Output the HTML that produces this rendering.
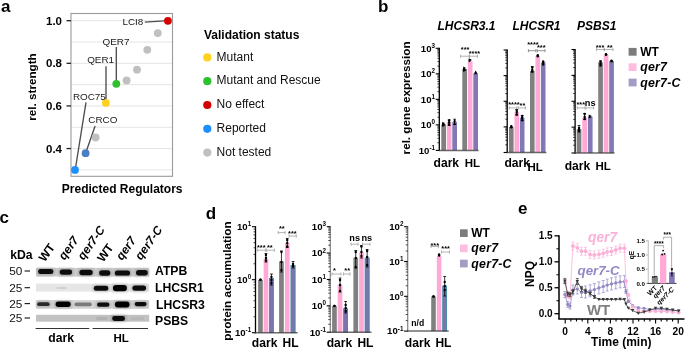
<!DOCTYPE html>
<html><head><meta charset="utf-8"><style>
html,body{margin:0;padding:0;background:#fff;}
svg{display:block;will-change:transform;}
svg text{font-family:"Liberation Sans",sans-serif;}
</style></head><body>
<svg width="685" height="349" viewBox="0 0 685 349">
<rect width="685" height="349" fill="#fff"/>
<text x="0.90" y="11.90" font-size="17" font-weight="bold" font-style="normal" text-anchor="start" fill="#000" >a</text>
<text x="378.10" y="12.00" font-size="17" font-weight="bold" font-style="normal" text-anchor="start" fill="#000" >b</text>
<text x="-0.50" y="223.00" font-size="17" font-weight="bold" font-style="normal" text-anchor="start" fill="#000" >c</text>
<text x="205.70" y="219.00" font-size="17" font-weight="bold" font-style="normal" text-anchor="start" fill="#000" >d</text>
<text x="518.00" y="214.30" font-size="17" font-weight="bold" font-style="normal" text-anchor="start" fill="#000" >e</text>
<line x1="71.00" y1="169.87" x2="172.50" y2="169.87" stroke="#e4e4e4" stroke-width="1" />
<line x1="71.00" y1="148.56" x2="172.50" y2="148.56" stroke="#e4e4e4" stroke-width="1" />
<line x1="71.00" y1="127.25" x2="172.50" y2="127.25" stroke="#e4e4e4" stroke-width="1" />
<line x1="71.00" y1="105.94" x2="172.50" y2="105.94" stroke="#e4e4e4" stroke-width="1" />
<line x1="71.00" y1="84.63" x2="172.50" y2="84.63" stroke="#e4e4e4" stroke-width="1" />
<line x1="71.00" y1="63.32" x2="172.50" y2="63.32" stroke="#e4e4e4" stroke-width="1" />
<line x1="71.00" y1="42.01" x2="172.50" y2="42.01" stroke="#e4e4e4" stroke-width="1" />
<line x1="71.00" y1="20.70" x2="172.50" y2="20.70" stroke="#e4e4e4" stroke-width="1" />
<rect x="71" y="13.5" width="101.5" height="162.8" fill="none" stroke="#9a9a9a" stroke-width="1.1"/>
<line x1="66.50" y1="20.70" x2="71.00" y2="20.70" stroke="#222" stroke-width="1.3" />
<text x="62.00" y="24.80" font-size="11.5" font-weight="bold" font-style="normal" text-anchor="end" fill="#000" >1.0</text>
<line x1="66.50" y1="63.32" x2="71.00" y2="63.32" stroke="#222" stroke-width="1.3" />
<text x="62.00" y="67.42" font-size="11.5" font-weight="bold" font-style="normal" text-anchor="end" fill="#000" >0.8</text>
<line x1="66.50" y1="105.94" x2="71.00" y2="105.94" stroke="#222" stroke-width="1.3" />
<text x="62.00" y="110.04" font-size="11.5" font-weight="bold" font-style="normal" text-anchor="end" fill="#000" >0.6</text>
<line x1="66.50" y1="148.56" x2="71.00" y2="148.56" stroke="#222" stroke-width="1.3" />
<text x="62.00" y="152.66" font-size="11.5" font-weight="bold" font-style="normal" text-anchor="end" fill="#000" >0.4</text>
<text x="36.30" y="87.00" font-size="11.7" font-weight="bold" font-style="normal" text-anchor="middle" fill="#000" transform="rotate(-90 36.3 87)">rel. strength</text>
<text x="122.20" y="192.50" font-size="12" font-weight="bold" font-style="normal" text-anchor="middle" fill="#000" >Predicted Regulators</text>
<line x1="144.80" y1="22.20" x2="164.20" y2="20.80" stroke="#4d4d4d" stroke-width="1.35" />
<line x1="116.30" y1="47.00" x2="116.30" y2="82.00" stroke="#4d4d4d" stroke-width="1.35" />
<line x1="106.00" y1="66.30" x2="106.00" y2="101.00" stroke="#4d4d4d" stroke-width="1.35" />
<line x1="86.00" y1="102.30" x2="75.50" y2="168.00" stroke="#4d4d4d" stroke-width="1.35" />
<line x1="95.10" y1="126.00" x2="86.20" y2="151.50" stroke="#4d4d4d" stroke-width="1.35" />
<circle cx="75.00" cy="169.90" r="3.9" fill="#1e8fff" />
<circle cx="85.60" cy="153.20" r="3.9" fill="#4a7fc6" />
<circle cx="95.60" cy="137.50" r="3.9" fill="#c0c0c0" />
<circle cx="105.90" cy="102.90" r="3.9" fill="#ffd21e" />
<circle cx="116.30" cy="83.80" r="3.9" fill="#2fc02f" />
<circle cx="126.60" cy="80.40" r="3.9" fill="#c0c0c0" />
<circle cx="137.00" cy="69.70" r="3.9" fill="#c0c0c0" />
<circle cx="147.30" cy="49.80" r="3.9" fill="#c0c0c0" />
<circle cx="157.80" cy="33.10" r="3.9" fill="#c0c0c0" />
<circle cx="167.90" cy="20.80" r="3.9" fill="#d40000" />
<text x="122.40" y="25.00" font-size="9.9" font-weight="normal" font-style="normal" text-anchor="start" fill="#1a1a1a" >LCI8</text>
<text x="102.60" y="44.60" font-size="9.9" font-weight="normal" font-style="normal" text-anchor="start" fill="#1a1a1a" >QER7</text>
<text x="87.20" y="63.20" font-size="9.9" font-weight="normal" font-style="normal" text-anchor="start" fill="#1a1a1a" >QER1</text>
<text x="72.90" y="100.00" font-size="9.9" font-weight="normal" font-style="normal" text-anchor="start" fill="#1a1a1a" >ROC75</text>
<text x="88.30" y="122.80" font-size="9.9" font-weight="normal" font-style="normal" text-anchor="start" fill="#1a1a1a" >CRCO</text>
<text x="204.00" y="38.90" font-size="12" font-weight="bold" font-style="normal" text-anchor="start" fill="#000" >Validation status</text>
<circle cx="207.30" cy="57.40" r="4.1" fill="#ffd21e" />
<text x="216.60" y="60.60" font-size="12" font-weight="normal" font-style="normal" text-anchor="start" fill="#111" >Mutant</text>
<circle cx="207.30" cy="81.20" r="4.1" fill="#2fc02f" />
<text x="216.60" y="84.40" font-size="12" font-weight="normal" font-style="normal" text-anchor="start" fill="#111" >Mutant and Rescue</text>
<circle cx="207.30" cy="105.00" r="4.1" fill="#d40000" />
<text x="216.60" y="108.20" font-size="12" font-weight="normal" font-style="normal" text-anchor="start" fill="#111" >No effect</text>
<circle cx="207.30" cy="128.80" r="4.1" fill="#1e8fff" />
<text x="216.60" y="132.00" font-size="12" font-weight="normal" font-style="normal" text-anchor="start" fill="#111" >Reported</text>
<circle cx="207.30" cy="152.60" r="4.1" fill="#c0c0c0" />
<text x="216.60" y="155.80" font-size="12" font-weight="normal" font-style="normal" text-anchor="start" fill="#111" >Not tested</text>
<text x="466.50" y="29.70" font-size="12" font-weight="bold" font-style="italic" text-anchor="middle" fill="#000" >LHCSR3.1</text>
<text x="536.50" y="29.70" font-size="12" font-weight="bold" font-style="italic" text-anchor="middle" fill="#000" >LHCSR1</text>
<text x="596.80" y="29.70" font-size="12" font-weight="bold" font-style="italic" text-anchor="middle" fill="#000" >PSBS1</text>
<text x="409.60" y="97.90" font-size="11.7" font-weight="bold" font-style="normal" text-anchor="middle" fill="#000" transform="rotate(-90 409.6 97.9)">rel. gene expression</text>
<line x1="439.30" y1="47.70" x2="439.30" y2="151.00" stroke="#000" stroke-width="1.3" />
<line x1="435.70" y1="48.30" x2="439.30" y2="48.30" stroke="#000" stroke-width="1.1" />
<text x="435.00" y="51.60" font-size="9.6" font-weight="bold" text-anchor="end">10<tspan font-size="6.3" dy="-3.8">3</tspan></text>
<line x1="437.30" y1="66.14" x2="439.30" y2="66.14" stroke="#000" stroke-width="0.7" />
<line x1="437.30" y1="61.65" x2="439.30" y2="61.65" stroke="#000" stroke-width="0.7" />
<line x1="437.30" y1="58.46" x2="439.30" y2="58.46" stroke="#000" stroke-width="0.7" />
<line x1="437.30" y1="55.98" x2="439.30" y2="55.98" stroke="#000" stroke-width="0.7" />
<line x1="437.30" y1="53.96" x2="439.30" y2="53.96" stroke="#000" stroke-width="0.7" />
<line x1="437.30" y1="52.25" x2="439.30" y2="52.25" stroke="#000" stroke-width="0.7" />
<line x1="437.30" y1="50.77" x2="439.30" y2="50.77" stroke="#000" stroke-width="0.7" />
<line x1="437.30" y1="49.47" x2="439.30" y2="49.47" stroke="#000" stroke-width="0.7" />
<line x1="435.70" y1="73.83" x2="439.30" y2="73.83" stroke="#000" stroke-width="1.1" />
<text x="435.00" y="77.12" font-size="9.6" font-weight="bold" text-anchor="end">10<tspan font-size="6.3" dy="-3.8">2</tspan></text>
<line x1="437.30" y1="91.67" x2="439.30" y2="91.67" stroke="#000" stroke-width="0.7" />
<line x1="437.30" y1="87.17" x2="439.30" y2="87.17" stroke="#000" stroke-width="0.7" />
<line x1="437.30" y1="83.98" x2="439.30" y2="83.98" stroke="#000" stroke-width="0.7" />
<line x1="437.30" y1="81.51" x2="439.30" y2="81.51" stroke="#000" stroke-width="0.7" />
<line x1="437.30" y1="79.49" x2="439.30" y2="79.49" stroke="#000" stroke-width="0.7" />
<line x1="437.30" y1="77.78" x2="439.30" y2="77.78" stroke="#000" stroke-width="0.7" />
<line x1="437.30" y1="76.30" x2="439.30" y2="76.30" stroke="#000" stroke-width="0.7" />
<line x1="437.30" y1="74.99" x2="439.30" y2="74.99" stroke="#000" stroke-width="0.7" />
<line x1="435.70" y1="99.35" x2="439.30" y2="99.35" stroke="#000" stroke-width="1.1" />
<text x="435.00" y="102.65" font-size="9.6" font-weight="bold" text-anchor="end">10<tspan font-size="6.3" dy="-3.8">1</tspan></text>
<line x1="437.30" y1="117.19" x2="439.30" y2="117.19" stroke="#000" stroke-width="0.7" />
<line x1="437.30" y1="112.70" x2="439.30" y2="112.70" stroke="#000" stroke-width="0.7" />
<line x1="437.30" y1="109.51" x2="439.30" y2="109.51" stroke="#000" stroke-width="0.7" />
<line x1="437.30" y1="107.03" x2="439.30" y2="107.03" stroke="#000" stroke-width="0.7" />
<line x1="437.30" y1="105.01" x2="439.30" y2="105.01" stroke="#000" stroke-width="0.7" />
<line x1="437.30" y1="103.30" x2="439.30" y2="103.30" stroke="#000" stroke-width="0.7" />
<line x1="437.30" y1="101.82" x2="439.30" y2="101.82" stroke="#000" stroke-width="0.7" />
<line x1="437.30" y1="100.52" x2="439.30" y2="100.52" stroke="#000" stroke-width="0.7" />
<line x1="435.70" y1="124.88" x2="439.30" y2="124.88" stroke="#000" stroke-width="1.1" />
<text x="435.00" y="128.18" font-size="9.6" font-weight="bold" text-anchor="end">10<tspan font-size="6.3" dy="-3.8">0</tspan></text>
<line x1="437.30" y1="142.72" x2="439.30" y2="142.72" stroke="#000" stroke-width="0.7" />
<line x1="437.30" y1="138.22" x2="439.30" y2="138.22" stroke="#000" stroke-width="0.7" />
<line x1="437.30" y1="135.03" x2="439.30" y2="135.03" stroke="#000" stroke-width="0.7" />
<line x1="437.30" y1="132.56" x2="439.30" y2="132.56" stroke="#000" stroke-width="0.7" />
<line x1="437.30" y1="130.54" x2="439.30" y2="130.54" stroke="#000" stroke-width="0.7" />
<line x1="437.30" y1="128.83" x2="439.30" y2="128.83" stroke="#000" stroke-width="0.7" />
<line x1="437.30" y1="127.35" x2="439.30" y2="127.35" stroke="#000" stroke-width="0.7" />
<line x1="437.30" y1="126.04" x2="439.30" y2="126.04" stroke="#000" stroke-width="0.7" />
<line x1="435.70" y1="150.40" x2="439.30" y2="150.40" stroke="#000" stroke-width="1.1" />
<text x="435.00" y="153.70" font-size="9.6" font-weight="bold" text-anchor="end">10<tspan font-size="6.3" dy="-3.8">-1</tspan></text>
<rect x="441.30" y="124.30" width="4.70" height="26.10" fill="#808080" />
<rect x="446.80" y="122.00" width="4.70" height="28.40" fill="#ffaad6" />
<rect x="452.30" y="121.90" width="4.70" height="28.50" fill="#8279b4" />
<rect x="462.30" y="69.00" width="4.70" height="81.40" fill="#808080" />
<rect x="467.80" y="61.30" width="4.70" height="89.10" fill="#ffaad6" />
<rect x="473.30" y="73.30" width="4.70" height="77.10" fill="#8279b4" />
<line x1="507.20" y1="49.40" x2="507.20" y2="153.10" stroke="#000" stroke-width="1.3" />
<line x1="503.60" y1="50.00" x2="507.20" y2="50.00" stroke="#000" stroke-width="1.1" />
<line x1="505.20" y1="67.91" x2="507.20" y2="67.91" stroke="#000" stroke-width="0.7" />
<line x1="505.20" y1="63.40" x2="507.20" y2="63.40" stroke="#000" stroke-width="0.7" />
<line x1="505.20" y1="60.20" x2="507.20" y2="60.20" stroke="#000" stroke-width="0.7" />
<line x1="505.20" y1="57.71" x2="507.20" y2="57.71" stroke="#000" stroke-width="0.7" />
<line x1="505.20" y1="55.68" x2="507.20" y2="55.68" stroke="#000" stroke-width="0.7" />
<line x1="505.20" y1="53.97" x2="507.20" y2="53.97" stroke="#000" stroke-width="0.7" />
<line x1="505.20" y1="52.48" x2="507.20" y2="52.48" stroke="#000" stroke-width="0.7" />
<line x1="505.20" y1="51.17" x2="507.20" y2="51.17" stroke="#000" stroke-width="0.7" />
<line x1="503.60" y1="75.62" x2="507.20" y2="75.62" stroke="#000" stroke-width="1.1" />
<line x1="505.20" y1="93.54" x2="507.20" y2="93.54" stroke="#000" stroke-width="0.7" />
<line x1="505.20" y1="89.02" x2="507.20" y2="89.02" stroke="#000" stroke-width="0.7" />
<line x1="505.20" y1="85.82" x2="507.20" y2="85.82" stroke="#000" stroke-width="0.7" />
<line x1="505.20" y1="83.34" x2="507.20" y2="83.34" stroke="#000" stroke-width="0.7" />
<line x1="505.20" y1="81.31" x2="507.20" y2="81.31" stroke="#000" stroke-width="0.7" />
<line x1="505.20" y1="79.59" x2="507.20" y2="79.59" stroke="#000" stroke-width="0.7" />
<line x1="505.20" y1="78.11" x2="507.20" y2="78.11" stroke="#000" stroke-width="0.7" />
<line x1="505.20" y1="76.80" x2="507.20" y2="76.80" stroke="#000" stroke-width="0.7" />
<line x1="503.60" y1="101.25" x2="507.20" y2="101.25" stroke="#000" stroke-width="1.1" />
<line x1="505.20" y1="119.16" x2="507.20" y2="119.16" stroke="#000" stroke-width="0.7" />
<line x1="505.20" y1="114.65" x2="507.20" y2="114.65" stroke="#000" stroke-width="0.7" />
<line x1="505.20" y1="111.45" x2="507.20" y2="111.45" stroke="#000" stroke-width="0.7" />
<line x1="505.20" y1="108.96" x2="507.20" y2="108.96" stroke="#000" stroke-width="0.7" />
<line x1="505.20" y1="106.93" x2="507.20" y2="106.93" stroke="#000" stroke-width="0.7" />
<line x1="505.20" y1="105.22" x2="507.20" y2="105.22" stroke="#000" stroke-width="0.7" />
<line x1="505.20" y1="103.73" x2="507.20" y2="103.73" stroke="#000" stroke-width="0.7" />
<line x1="505.20" y1="102.42" x2="507.20" y2="102.42" stroke="#000" stroke-width="0.7" />
<line x1="503.60" y1="126.88" x2="507.20" y2="126.88" stroke="#000" stroke-width="1.1" />
<line x1="505.20" y1="144.79" x2="507.20" y2="144.79" stroke="#000" stroke-width="0.7" />
<line x1="505.20" y1="140.27" x2="507.20" y2="140.27" stroke="#000" stroke-width="0.7" />
<line x1="505.20" y1="137.07" x2="507.20" y2="137.07" stroke="#000" stroke-width="0.7" />
<line x1="505.20" y1="134.59" x2="507.20" y2="134.59" stroke="#000" stroke-width="0.7" />
<line x1="505.20" y1="132.56" x2="507.20" y2="132.56" stroke="#000" stroke-width="0.7" />
<line x1="505.20" y1="130.84" x2="507.20" y2="130.84" stroke="#000" stroke-width="0.7" />
<line x1="505.20" y1="129.36" x2="507.20" y2="129.36" stroke="#000" stroke-width="0.7" />
<line x1="505.20" y1="128.05" x2="507.20" y2="128.05" stroke="#000" stroke-width="0.7" />
<line x1="503.60" y1="152.50" x2="507.20" y2="152.50" stroke="#000" stroke-width="1.1" />
<rect x="509.00" y="127.00" width="4.60" height="25.50" fill="#808080" />
<rect x="514.45" y="112.30" width="4.60" height="40.20" fill="#ffaad6" />
<rect x="519.90" y="117.60" width="4.60" height="34.90" fill="#8279b4" />
<rect x="530.00" y="71.00" width="4.60" height="81.50" fill="#808080" />
<rect x="535.45" y="56.00" width="4.60" height="96.50" fill="#ffaad6" />
<rect x="540.90" y="62.50" width="4.60" height="90.00" fill="#8279b4" />
<line x1="575.10" y1="48.90" x2="575.10" y2="153.60" stroke="#000" stroke-width="1.3" />
<line x1="571.50" y1="49.50" x2="575.10" y2="49.50" stroke="#000" stroke-width="1.1" />
<line x1="573.10" y1="67.59" x2="575.10" y2="67.59" stroke="#000" stroke-width="0.7" />
<line x1="573.10" y1="63.03" x2="575.10" y2="63.03" stroke="#000" stroke-width="0.7" />
<line x1="573.10" y1="59.80" x2="575.10" y2="59.80" stroke="#000" stroke-width="0.7" />
<line x1="573.10" y1="57.29" x2="575.10" y2="57.29" stroke="#000" stroke-width="0.7" />
<line x1="573.10" y1="55.24" x2="575.10" y2="55.24" stroke="#000" stroke-width="0.7" />
<line x1="573.10" y1="53.51" x2="575.10" y2="53.51" stroke="#000" stroke-width="0.7" />
<line x1="573.10" y1="52.01" x2="575.10" y2="52.01" stroke="#000" stroke-width="0.7" />
<line x1="573.10" y1="50.68" x2="575.10" y2="50.68" stroke="#000" stroke-width="0.7" />
<line x1="571.50" y1="75.38" x2="575.10" y2="75.38" stroke="#000" stroke-width="1.1" />
<line x1="573.10" y1="93.46" x2="575.10" y2="93.46" stroke="#000" stroke-width="0.7" />
<line x1="573.10" y1="88.90" x2="575.10" y2="88.90" stroke="#000" stroke-width="0.7" />
<line x1="573.10" y1="85.67" x2="575.10" y2="85.67" stroke="#000" stroke-width="0.7" />
<line x1="573.10" y1="83.16" x2="575.10" y2="83.16" stroke="#000" stroke-width="0.7" />
<line x1="573.10" y1="81.12" x2="575.10" y2="81.12" stroke="#000" stroke-width="0.7" />
<line x1="573.10" y1="79.38" x2="575.10" y2="79.38" stroke="#000" stroke-width="0.7" />
<line x1="573.10" y1="77.88" x2="575.10" y2="77.88" stroke="#000" stroke-width="0.7" />
<line x1="573.10" y1="76.56" x2="575.10" y2="76.56" stroke="#000" stroke-width="0.7" />
<line x1="571.50" y1="101.25" x2="575.10" y2="101.25" stroke="#000" stroke-width="1.1" />
<line x1="573.10" y1="119.34" x2="575.10" y2="119.34" stroke="#000" stroke-width="0.7" />
<line x1="573.10" y1="114.78" x2="575.10" y2="114.78" stroke="#000" stroke-width="0.7" />
<line x1="573.10" y1="111.55" x2="575.10" y2="111.55" stroke="#000" stroke-width="0.7" />
<line x1="573.10" y1="109.04" x2="575.10" y2="109.04" stroke="#000" stroke-width="0.7" />
<line x1="573.10" y1="106.99" x2="575.10" y2="106.99" stroke="#000" stroke-width="0.7" />
<line x1="573.10" y1="105.26" x2="575.10" y2="105.26" stroke="#000" stroke-width="0.7" />
<line x1="573.10" y1="103.76" x2="575.10" y2="103.76" stroke="#000" stroke-width="0.7" />
<line x1="573.10" y1="102.43" x2="575.10" y2="102.43" stroke="#000" stroke-width="0.7" />
<line x1="571.50" y1="127.12" x2="575.10" y2="127.12" stroke="#000" stroke-width="1.1" />
<line x1="573.10" y1="145.21" x2="575.10" y2="145.21" stroke="#000" stroke-width="0.7" />
<line x1="573.10" y1="140.65" x2="575.10" y2="140.65" stroke="#000" stroke-width="0.7" />
<line x1="573.10" y1="137.42" x2="575.10" y2="137.42" stroke="#000" stroke-width="0.7" />
<line x1="573.10" y1="134.91" x2="575.10" y2="134.91" stroke="#000" stroke-width="0.7" />
<line x1="573.10" y1="132.87" x2="575.10" y2="132.87" stroke="#000" stroke-width="0.7" />
<line x1="573.10" y1="131.13" x2="575.10" y2="131.13" stroke="#000" stroke-width="0.7" />
<line x1="573.10" y1="129.63" x2="575.10" y2="129.63" stroke="#000" stroke-width="0.7" />
<line x1="573.10" y1="128.31" x2="575.10" y2="128.31" stroke="#000" stroke-width="0.7" />
<line x1="571.50" y1="153.00" x2="575.10" y2="153.00" stroke="#000" stroke-width="1.1" />
<rect x="576.70" y="129.20" width="4.70" height="23.80" fill="#808080" />
<rect x="582.30" y="117.80" width="4.70" height="35.20" fill="#ffaad6" />
<rect x="587.90" y="116.70" width="4.70" height="36.30" fill="#8279b4" />
<rect x="598.20" y="62.30" width="4.70" height="90.70" fill="#808080" />
<rect x="603.70" y="54.60" width="4.70" height="98.40" fill="#ffaad6" />
<rect x="609.20" y="61.00" width="4.70" height="92.00" fill="#8279b4" />
<path d="M442.21,121.76 L445.21,123.20 L442.21,124.64 Z" fill="#000"/>
<path d="M442.21,123.06 L445.21,124.50 L442.21,125.94 Z" fill="#000"/>
<path d="M442.21,124.06 L445.21,125.50 L442.21,126.94 Z" fill="#000"/>
<line x1="449.15" y1="119.80" x2="449.15" y2="125.50" stroke="#000" stroke-width="0.8" />
<line x1="447.75" y1="119.80" x2="450.55" y2="119.80" stroke="#000" stroke-width="0.8" />
<line x1="447.75" y1="125.50" x2="450.55" y2="125.50" stroke="#000" stroke-width="0.8" />
<circle cx="449.15" cy="120.50" r="1.2" fill="#000" />
<circle cx="449.15" cy="122.50" r="1.2" fill="#000" />
<circle cx="449.15" cy="124.50" r="1.2" fill="#000" />
<line x1="454.65" y1="119.20" x2="454.65" y2="124.50" stroke="#000" stroke-width="0.8" />
<line x1="453.25" y1="119.20" x2="456.05" y2="119.20" stroke="#000" stroke-width="0.8" />
<line x1="453.25" y1="124.50" x2="456.05" y2="124.50" stroke="#000" stroke-width="0.8" />
<path d="M453.09,121.70 L456.21,121.70 L454.65,119.06 Z" fill="#000"/>
<path d="M453.09,124.70 L456.21,124.70 L454.65,122.06 Z" fill="#000"/>
<path d="M463.21,66.56 L466.21,68.00 L463.21,69.44 Z" fill="#000"/>
<path d="M463.21,68.06 L466.21,69.50 L463.21,70.94 Z" fill="#000"/>
<path d="M463.21,69.06 L466.21,70.50 L463.21,71.94 Z" fill="#000"/>
<path d="M468.71,58.36 L471.71,59.80 L468.71,61.24 Z" fill="#000"/>
<path d="M468.71,59.36 L471.71,60.80 L468.71,62.24 Z" fill="#000"/>
<path d="M474.09,73.20 L477.21,73.20 L475.65,70.56 Z" fill="#000"/>
<path d="M474.09,74.20 L477.21,74.20 L475.65,71.56 Z" fill="#000"/>
<circle cx="511.30" cy="126.30" r="1.2" fill="#000" />
<circle cx="511.30" cy="127.20" r="1.2" fill="#000" />
<line x1="516.75" y1="109.50" x2="516.75" y2="115.00" stroke="#000" stroke-width="0.8" />
<line x1="515.35" y1="109.50" x2="518.15" y2="109.50" stroke="#000" stroke-width="0.8" />
<line x1="515.35" y1="115.00" x2="518.15" y2="115.00" stroke="#000" stroke-width="0.8" />
<circle cx="516.75" cy="110.00" r="1.2" fill="#000" />
<circle cx="516.75" cy="112.00" r="1.2" fill="#000" />
<circle cx="516.75" cy="114.50" r="1.2" fill="#000" />
<line x1="522.20" y1="115.50" x2="522.20" y2="120.50" stroke="#000" stroke-width="0.8" />
<line x1="520.80" y1="115.50" x2="523.60" y2="115.50" stroke="#000" stroke-width="0.8" />
<line x1="520.80" y1="120.50" x2="523.60" y2="120.50" stroke="#000" stroke-width="0.8" />
<circle cx="522.20" cy="116.00" r="1.2" fill="#000" />
<circle cx="522.20" cy="118.00" r="1.2" fill="#000" />
<circle cx="522.20" cy="120.20" r="1.2" fill="#000" />
<line x1="532.30" y1="66.50" x2="532.30" y2="72.00" stroke="#000" stroke-width="0.8" />
<line x1="530.90" y1="66.50" x2="533.70" y2="66.50" stroke="#000" stroke-width="0.8" />
<line x1="530.90" y1="72.00" x2="533.70" y2="72.00" stroke="#000" stroke-width="0.8" />
<circle cx="532.30" cy="67.50" r="1.2" fill="#000" />
<circle cx="532.30" cy="70.00" r="1.2" fill="#000" />
<circle cx="532.30" cy="71.50" r="1.2" fill="#000" />
<circle cx="537.75" cy="55.30" r="1.2" fill="#000" />
<circle cx="537.75" cy="56.20" r="1.2" fill="#000" />
<circle cx="543.20" cy="61.50" r="1.2" fill="#000" />
<circle cx="543.20" cy="62.80" r="1.2" fill="#000" />
<circle cx="543.20" cy="64.50" r="1.2" fill="#000" />
<line x1="579.05" y1="125.50" x2="579.05" y2="132.00" stroke="#000" stroke-width="0.8" />
<line x1="577.65" y1="125.50" x2="580.45" y2="125.50" stroke="#000" stroke-width="0.8" />
<line x1="577.65" y1="132.00" x2="580.45" y2="132.00" stroke="#000" stroke-width="0.8" />
<circle cx="579.05" cy="128.00" r="1.2" fill="#000" />
<circle cx="579.05" cy="129.50" r="1.2" fill="#000" />
<circle cx="579.05" cy="131.00" r="1.2" fill="#000" />
<line x1="584.65" y1="113.50" x2="584.65" y2="119.50" stroke="#000" stroke-width="0.8" />
<line x1="583.25" y1="113.50" x2="586.05" y2="113.50" stroke="#000" stroke-width="0.8" />
<line x1="583.25" y1="119.50" x2="586.05" y2="119.50" stroke="#000" stroke-width="0.8" />
<circle cx="584.65" cy="114.00" r="1.2" fill="#000" />
<circle cx="584.65" cy="117.00" r="1.2" fill="#000" />
<circle cx="584.65" cy="119.00" r="1.2" fill="#000" />
<path d="M588.81,114.56 L591.81,116.00 L588.81,117.44 Z" fill="#000"/>
<path d="M588.81,115.56 L591.81,117.00 L588.81,118.44 Z" fill="#000"/>
<line x1="600.55" y1="61.00" x2="600.55" y2="66.00" stroke="#000" stroke-width="0.8" />
<line x1="599.15" y1="61.00" x2="601.95" y2="61.00" stroke="#000" stroke-width="0.8" />
<line x1="599.15" y1="66.00" x2="601.95" y2="66.00" stroke="#000" stroke-width="0.8" />
<circle cx="600.55" cy="61.50" r="1.2" fill="#000" />
<circle cx="600.55" cy="63.50" r="1.2" fill="#000" />
<circle cx="600.55" cy="65.00" r="1.2" fill="#000" />
<circle cx="606.05" cy="54.20" r="1.2" fill="#000" />
<circle cx="606.05" cy="54.80" r="1.2" fill="#000" />
<circle cx="611.55" cy="60.60" r="1.2" fill="#000" />
<circle cx="611.55" cy="61.20" r="1.2" fill="#000" />
<line x1="460.60" y1="56.20" x2="469.40" y2="56.20" stroke="#a0a0a0" stroke-width="0.8" />
<line x1="460.60" y1="54.60" x2="460.60" y2="57.80" stroke="#a0a0a0" stroke-width="0.8" />
<line x1="469.40" y1="54.60" x2="469.40" y2="57.80" stroke="#a0a0a0" stroke-width="0.8" />
<line x1="469.40" y1="56.20" x2="477.50" y2="56.20" stroke="#a0a0a0" stroke-width="0.8" />
<line x1="469.40" y1="54.60" x2="469.40" y2="57.80" stroke="#a0a0a0" stroke-width="0.8" />
<line x1="477.50" y1="54.60" x2="477.50" y2="57.80" stroke="#a0a0a0" stroke-width="0.8" />
<text x="465.10" y="52.40" font-size="7.4" font-weight="bold" font-style="normal" text-anchor="middle" fill="#000" >***</text>
<text x="474.40" y="55.80" font-size="7.4" font-weight="bold" font-style="normal" text-anchor="middle" fill="#000" >****</text>
<line x1="509.30" y1="107.90" x2="516.90" y2="107.90" stroke="#a0a0a0" stroke-width="0.8" />
<line x1="509.30" y1="106.30" x2="509.30" y2="109.50" stroke="#a0a0a0" stroke-width="0.8" />
<line x1="516.90" y1="106.30" x2="516.90" y2="109.50" stroke="#a0a0a0" stroke-width="0.8" />
<line x1="518.30" y1="107.90" x2="525.60" y2="107.90" stroke="#a0a0a0" stroke-width="0.8" />
<line x1="518.30" y1="106.30" x2="518.30" y2="109.50" stroke="#a0a0a0" stroke-width="0.8" />
<line x1="525.60" y1="106.30" x2="525.60" y2="109.50" stroke="#a0a0a0" stroke-width="0.8" />
<text x="513.90" y="106.70" font-size="7.4" font-weight="bold" font-style="normal" text-anchor="middle" fill="#000" >****</text>
<text x="522.50" y="107.60" font-size="7.4" font-weight="bold" font-style="normal" text-anchor="middle" fill="#000" >**</text>
<line x1="528.40" y1="50.70" x2="535.90" y2="50.70" stroke="#777" stroke-width="0.8" />
<line x1="528.40" y1="49.10" x2="528.40" y2="52.30" stroke="#777" stroke-width="0.8" />
<line x1="535.90" y1="49.10" x2="535.90" y2="52.30" stroke="#777" stroke-width="0.8" />
<line x1="537.20" y1="50.70" x2="545.00" y2="50.70" stroke="#777" stroke-width="0.8" />
<line x1="537.20" y1="49.10" x2="537.20" y2="52.30" stroke="#777" stroke-width="0.8" />
<line x1="545.00" y1="49.10" x2="545.00" y2="52.30" stroke="#777" stroke-width="0.8" />
<text x="533.00" y="46.80" font-size="7.4" font-weight="bold" font-style="normal" text-anchor="middle" fill="#000" >****</text>
<text x="541.30" y="50.20" font-size="7.4" font-weight="bold" font-style="normal" text-anchor="middle" fill="#000" >***</text>
<line x1="577.30" y1="107.90" x2="584.90" y2="107.90" stroke="#a0a0a0" stroke-width="0.8" />
<line x1="577.30" y1="106.30" x2="577.30" y2="109.50" stroke="#a0a0a0" stroke-width="0.8" />
<line x1="584.90" y1="106.30" x2="584.90" y2="109.50" stroke="#a0a0a0" stroke-width="0.8" />
<line x1="585.90" y1="107.90" x2="593.60" y2="107.90" stroke="#a0a0a0" stroke-width="0.8" />
<line x1="585.90" y1="106.30" x2="585.90" y2="109.50" stroke="#a0a0a0" stroke-width="0.8" />
<line x1="593.60" y1="106.30" x2="593.60" y2="109.50" stroke="#a0a0a0" stroke-width="0.8" />
<text x="580.70" y="107.20" font-size="7.4" font-weight="bold" font-style="normal" text-anchor="middle" fill="#000" >***</text>
<text x="590.20" y="105.70" font-size="9.2" font-weight="bold" font-style="normal" text-anchor="middle" fill="#000" >ns</text>
<line x1="596.50" y1="49.50" x2="604.30" y2="49.50" stroke="#a0a0a0" stroke-width="0.8" />
<line x1="596.50" y1="47.90" x2="596.50" y2="51.10" stroke="#a0a0a0" stroke-width="0.8" />
<line x1="604.30" y1="47.90" x2="604.30" y2="51.10" stroke="#a0a0a0" stroke-width="0.8" />
<line x1="604.30" y1="49.50" x2="613.00" y2="49.50" stroke="#a0a0a0" stroke-width="0.8" />
<line x1="604.30" y1="47.90" x2="604.30" y2="51.10" stroke="#a0a0a0" stroke-width="0.8" />
<line x1="613.00" y1="47.90" x2="613.00" y2="51.10" stroke="#a0a0a0" stroke-width="0.8" />
<text x="600.00" y="49.80" font-size="7.4" font-weight="bold" font-style="normal" text-anchor="middle" fill="#000" >***</text>
<text x="609.80" y="49.80" font-size="7.4" font-weight="bold" font-style="normal" text-anchor="middle" fill="#000" >**</text>
<text x="446.30" y="166.90" font-size="12.1" font-weight="bold" font-style="normal" text-anchor="middle" fill="#000" >dark</text>
<text x="472.30" y="166.90" font-size="11.5" font-weight="bold" font-style="normal" text-anchor="middle" fill="#000" >HL</text>
<text x="517.20" y="166.90" font-size="12.1" font-weight="bold" font-style="normal" text-anchor="middle" fill="#000" >dark</text>
<text x="535.20" y="170.70" font-size="11.5" font-weight="bold" font-style="normal" text-anchor="middle" fill="#000" >HL</text>
<text x="577.40" y="170.00" font-size="12.1" font-weight="bold" font-style="normal" text-anchor="middle" fill="#000" >dark</text>
<text x="603.10" y="170.00" font-size="11.5" font-weight="bold" font-style="normal" text-anchor="middle" fill="#000" >HL</text>
<rect x="628.60" y="47.90" width="8.00" height="7.80" fill="#7c7c7c" />
<text x="640.20" y="55.80" font-size="12" font-weight="bold" font-style="normal" text-anchor="start" fill="#000" >WT</text>
<rect x="628.60" y="63.25" width="8.00" height="7.80" fill="#ffbee0" />
<text x="640.20" y="71.15" font-size="12.3" font-weight="bold" font-style="italic" text-anchor="start" fill="#000" letter-spacing="0.25">qer7</text>
<rect x="628.60" y="78.60" width="8.00" height="7.80" fill="#a29cc7" />
<text x="640.20" y="86.50" font-size="12.3" font-weight="bold" font-style="italic" text-anchor="start" fill="#000" letter-spacing="0.25">qer7-C</text>
<text x="10.20" y="258.80" font-size="12.2" font-weight="bold" font-style="normal" text-anchor="start" fill="#000" >kDa</text>
<text x="9.30" y="275.00" font-size="11.8" font-weight="normal" font-style="normal" text-anchor="start" fill="#111" >50</text>
<line x1="24.60" y1="271.00" x2="30.00" y2="271.00" stroke="#111" stroke-width="1.1" />
<text x="9.30" y="291.70" font-size="11.8" font-weight="normal" font-style="normal" text-anchor="start" fill="#111" >25</text>
<line x1="24.60" y1="287.70" x2="30.00" y2="287.70" stroke="#111" stroke-width="1.1" />
<text x="9.30" y="307.60" font-size="11.8" font-weight="normal" font-style="normal" text-anchor="start" fill="#111" >25</text>
<line x1="24.60" y1="303.60" x2="30.00" y2="303.60" stroke="#111" stroke-width="1.1" />
<text x="9.30" y="322.00" font-size="11.8" font-weight="normal" font-style="normal" text-anchor="start" fill="#111" >25</text>
<line x1="24.60" y1="318.00" x2="30.00" y2="318.00" stroke="#111" stroke-width="1.1" />
<text x="44.70" y="262.60" font-size="12" font-weight="bold" font-style="normal" transform="rotate(-55 44.70 262.60)">WT</text>
<text x="64.60" y="260.80" font-size="12" font-weight="bold" font-style="italic" transform="rotate(-55 64.60 260.80)">qer7</text>
<text x="83.60" y="260.80" font-size="12" font-weight="bold" font-style="italic" transform="rotate(-55 83.60 260.80)">qer7-C</text>
<text x="103.20" y="262.80" font-size="12" font-weight="bold" font-style="normal" transform="rotate(-55 103.20 262.80)">WT</text>
<text x="122.10" y="261.10" font-size="12" font-weight="bold" font-style="italic" transform="rotate(-55 122.10 261.10)">qer7</text>
<text x="141.10" y="260.80" font-size="12" font-weight="bold" font-style="italic" transform="rotate(-55 141.10 260.80)">qer7-C</text>
<defs><filter id="bl" x="-50%" y="-50%" width="200%" height="200%"><feGaussianBlur stdDeviation="1.2"/></filter><filter id="bl2" x="-50%" y="-50%" width="200%" height="200%"><feGaussianBlur stdDeviation="0.7"/></filter></defs>
<rect x="36.00" y="267.80" width="113.20" height="8.80" fill="#cdcdcd" />
<rect x="36.60" y="267.60" width="18.20" height="7.80" rx="3" fill="#000" opacity="0.15" filter="url(#bl)"/>
<rect x="38.10" y="269.00" width="15.20" height="5.00" rx="2.50" fill="#0c0c0c" filter="url(#bl2)"/>
<rect x="58.20" y="268.00" width="15.40" height="8.20" rx="3" fill="#000" opacity="0.15" filter="url(#bl)"/>
<rect x="59.70" y="269.40" width="12.40" height="5.40" rx="2.70" fill="#0c0c0c" filter="url(#bl2)"/>
<rect x="77.90" y="268.30" width="16.30" height="8.30" rx="3" fill="#000" opacity="0.15" filter="url(#bl)"/>
<rect x="79.40" y="269.70" width="13.30" height="5.50" rx="2.75" fill="#0c0c0c" filter="url(#bl2)"/>
<rect x="97.70" y="268.90" width="14.10" height="8.30" rx="3" fill="#000" opacity="0.15" filter="url(#bl)"/>
<rect x="99.20" y="270.30" width="11.10" height="5.50" rx="2.75" fill="#0c0c0c" filter="url(#bl2)"/>
<rect x="113.30" y="269.00" width="18.30" height="8.00" rx="3" fill="#000" opacity="0.15" filter="url(#bl)"/>
<rect x="114.80" y="270.40" width="15.30" height="5.20" rx="2.60" fill="#0c0c0c" filter="url(#bl2)"/>
<rect x="134.50" y="268.60" width="14.80" height="8.20" rx="3" fill="#000" opacity="0.15" filter="url(#bl)"/>
<rect x="136.00" y="270.00" width="11.80" height="5.40" rx="2.70" fill="#0c0c0c" filter="url(#bl2)"/>
<rect x="36.00" y="283.60" width="113.20" height="8.00" fill="#e6e6e6" />
<rect x="56.50" y="287.00" width="10.00" height="2.00" rx="1.00" fill="#d2d2d2" filter="url(#bl2)"/>
<rect x="92.30" y="284.40" width="17.50" height="7.80" rx="3" fill="#000" opacity="0.15" filter="url(#bl)"/>
<rect x="93.80" y="285.80" width="14.50" height="5.00" rx="2.50" fill="#0c0c0c" filter="url(#bl2)"/>
<rect x="111.40" y="283.50" width="17.00" height="9.20" rx="3" fill="#000" opacity="0.15" filter="url(#bl)"/>
<rect x="112.90" y="284.90" width="14.00" height="6.40" rx="3.20" fill="#050505" filter="url(#bl2)"/>
<rect x="130.90" y="284.00" width="16.70" height="8.20" rx="3" fill="#000" opacity="0.15" filter="url(#bl)"/>
<rect x="132.40" y="285.40" width="13.70" height="5.40" rx="2.70" fill="#0c0c0c" filter="url(#bl2)"/>
<rect x="36.00" y="300.10" width="113.20" height="8.70" fill="#d4d4d4" />
<rect x="35.70" y="300.80" width="15.40" height="6.70" rx="3" fill="#000" opacity="0.15" filter="url(#bl)"/>
<rect x="37.20" y="302.20" width="12.40" height="3.90" rx="1.95" fill="#2a2a2a" filter="url(#bl2)"/>
<rect x="54.10" y="300.20" width="18.10" height="8.20" rx="3" fill="#000" opacity="0.15" filter="url(#bl)"/>
<rect x="55.60" y="301.60" width="15.10" height="5.40" rx="2.70" fill="#050505" filter="url(#bl2)"/>
<rect x="74.40" y="302.60" width="17.40" height="3.60" rx="1.80" fill="#7a7a7a" filter="url(#bl2)"/>
<rect x="95.50" y="301.20" width="15.40" height="7.00" rx="3" fill="#000" opacity="0.15" filter="url(#bl)"/>
<rect x="97.00" y="302.60" width="12.40" height="4.20" rx="2.10" fill="#0c0c0c" filter="url(#bl2)"/>
<rect x="113.40" y="300.00" width="17.70" height="8.90" rx="3" fill="#000" opacity="0.15" filter="url(#bl)"/>
<rect x="114.90" y="301.40" width="14.70" height="6.10" rx="3.05" fill="#050505" filter="url(#bl2)"/>
<rect x="133.20" y="300.50" width="14.90" height="7.10" rx="3" fill="#000" opacity="0.15" filter="url(#bl)"/>
<rect x="134.70" y="301.90" width="11.90" height="4.30" rx="2.15" fill="#0c0c0c" filter="url(#bl2)"/>
<rect x="36.00" y="314.80" width="113.20" height="6.90" fill="#c2c2c2" />
<rect x="96.00" y="316.70" width="12.00" height="3.40" rx="1.70" fill="#b2b2b2" filter="url(#bl2)"/>
<rect x="110.70" y="314.60" width="15.80" height="7.70" rx="3" fill="#000" opacity="0.15" filter="url(#bl)"/>
<rect x="112.20" y="316.00" width="12.80" height="4.90" rx="2.45" fill="#0a0a0a" filter="url(#bl2)"/>
<rect x="131.00" y="316.80" width="13.00" height="3.20" rx="1.60" fill="#b8b8b8" filter="url(#bl2)"/>
<text x="155.00" y="274.50" font-size="12.2" font-weight="bold" font-style="normal" text-anchor="start" fill="#000" >ATPB</text>
<text x="155.00" y="291.70" font-size="12.2" font-weight="bold" font-style="normal" text-anchor="start" fill="#000" >LHCSR1</text>
<text x="156.10" y="308.60" font-size="12.2" font-weight="bold" font-style="normal" text-anchor="start" fill="#000" >LHCSR3</text>
<text x="155.00" y="324.80" font-size="12.2" font-weight="bold" font-style="normal" text-anchor="start" fill="#000" >PSBS</text>
<line x1="35.60" y1="328.50" x2="89.20" y2="328.50" stroke="#333" stroke-width="1" />
<line x1="92.60" y1="328.50" x2="148.00" y2="328.50" stroke="#333" stroke-width="1" />
<text x="61.10" y="341.90" font-size="12.2" font-weight="bold" font-style="normal" text-anchor="middle" fill="#000" >dark</text>
<text x="121.20" y="341.90" font-size="11.5" font-weight="bold" font-style="normal" text-anchor="middle" fill="#000" >HL</text>
<text x="230.80" y="281.00" font-size="11.8" font-weight="bold" font-style="normal" text-anchor="middle" fill="#000" transform="rotate(-90 230.8 281)">protein accumulation</text>
<line x1="255.50" y1="226.10" x2="255.50" y2="333.30" stroke="#000" stroke-width="1.3" />
<line x1="251.90" y1="226.70" x2="255.50" y2="226.70" stroke="#000" stroke-width="1.1" />
<text x="251.20" y="230.00" font-size="9.6" font-weight="bold" text-anchor="end">10<tspan font-size="6.3" dy="-3.8">1</tspan></text>
<line x1="253.50" y1="263.75" x2="255.50" y2="263.75" stroke="#000" stroke-width="0.7" />
<line x1="253.50" y1="254.41" x2="255.50" y2="254.41" stroke="#000" stroke-width="0.7" />
<line x1="253.50" y1="247.79" x2="255.50" y2="247.79" stroke="#000" stroke-width="0.7" />
<line x1="253.50" y1="242.65" x2="255.50" y2="242.65" stroke="#000" stroke-width="0.7" />
<line x1="253.50" y1="238.46" x2="255.50" y2="238.46" stroke="#000" stroke-width="0.7" />
<line x1="253.50" y1="234.91" x2="255.50" y2="234.91" stroke="#000" stroke-width="0.7" />
<line x1="253.50" y1="231.84" x2="255.50" y2="231.84" stroke="#000" stroke-width="0.7" />
<line x1="253.50" y1="229.13" x2="255.50" y2="229.13" stroke="#000" stroke-width="0.7" />
<line x1="251.90" y1="279.70" x2="255.50" y2="279.70" stroke="#000" stroke-width="1.1" />
<text x="251.20" y="283.00" font-size="9.6" font-weight="bold" text-anchor="end">10<tspan font-size="6.3" dy="-3.8">0</tspan></text>
<line x1="253.50" y1="316.75" x2="255.50" y2="316.75" stroke="#000" stroke-width="0.7" />
<line x1="253.50" y1="307.41" x2="255.50" y2="307.41" stroke="#000" stroke-width="0.7" />
<line x1="253.50" y1="300.79" x2="255.50" y2="300.79" stroke="#000" stroke-width="0.7" />
<line x1="253.50" y1="295.65" x2="255.50" y2="295.65" stroke="#000" stroke-width="0.7" />
<line x1="253.50" y1="291.46" x2="255.50" y2="291.46" stroke="#000" stroke-width="0.7" />
<line x1="253.50" y1="287.91" x2="255.50" y2="287.91" stroke="#000" stroke-width="0.7" />
<line x1="253.50" y1="284.84" x2="255.50" y2="284.84" stroke="#000" stroke-width="0.7" />
<line x1="253.50" y1="282.13" x2="255.50" y2="282.13" stroke="#000" stroke-width="0.7" />
<line x1="251.90" y1="332.70" x2="255.50" y2="332.70" stroke="#000" stroke-width="1.1" />
<text x="251.20" y="336.00" font-size="9.6" font-weight="bold" text-anchor="end">10<tspan font-size="6.3" dy="-3.8">-1</tspan></text>
<rect x="258.10" y="279.80" width="4.70" height="52.90" fill="#808080" />
<rect x="263.60" y="258.80" width="4.70" height="73.90" fill="#ffaad6" />
<rect x="269.10" y="278.00" width="4.70" height="54.70" fill="#7c74ad" />
<rect x="269.45" y="278.35" width="4.00" height="54.35" fill="none" stroke="#3a96a6" stroke-width="0.7"/>
<rect x="279.10" y="261.40" width="4.70" height="71.30" fill="#808080" />
<rect x="284.90" y="243.00" width="4.70" height="89.70" fill="#ffaad6" />
<rect x="290.70" y="265.20" width="4.70" height="67.50" fill="#7c74ad" />
<rect x="291.05" y="265.55" width="4.00" height="67.15" fill="none" stroke="#3a96a6" stroke-width="0.7"/>
<circle cx="260.45" cy="279.80" r="1.2" fill="#000" />
<circle cx="260.45" cy="279.80" r="1.2" fill="#000" />
<line x1="265.95" y1="253.50" x2="265.95" y2="262.00" stroke="#000" stroke-width="0.8" />
<line x1="264.55" y1="253.50" x2="267.35" y2="253.50" stroke="#000" stroke-width="0.8" />
<line x1="264.55" y1="262.00" x2="267.35" y2="262.00" stroke="#000" stroke-width="0.8" />
<circle cx="265.95" cy="255.00" r="1.2" fill="#000" />
<circle cx="265.95" cy="258.00" r="1.2" fill="#000" />
<circle cx="265.95" cy="260.50" r="1.2" fill="#000" />
<line x1="271.45" y1="274.00" x2="271.45" y2="285.00" stroke="#000" stroke-width="0.8" />
<line x1="270.05" y1="274.00" x2="272.85" y2="274.00" stroke="#000" stroke-width="0.8" />
<line x1="270.05" y1="285.00" x2="272.85" y2="285.00" stroke="#000" stroke-width="0.8" />
<circle cx="271.45" cy="277.00" r="1.2" fill="#000" />
<circle cx="271.45" cy="280.00" r="1.2" fill="#000" />
<circle cx="271.45" cy="283.00" r="1.2" fill="#000" />
<line x1="281.45" y1="251.00" x2="281.45" y2="272.00" stroke="#000" stroke-width="0.8" />
<line x1="280.05" y1="251.00" x2="282.85" y2="251.00" stroke="#000" stroke-width="0.8" />
<line x1="280.05" y1="272.00" x2="282.85" y2="272.00" stroke="#000" stroke-width="0.8" />
<circle cx="281.45" cy="252.00" r="1.2" fill="#000" />
<circle cx="281.45" cy="262.00" r="1.2" fill="#000" />
<circle cx="281.45" cy="270.00" r="1.2" fill="#000" />
<line x1="287.25" y1="238.50" x2="287.25" y2="247.50" stroke="#000" stroke-width="0.8" />
<line x1="285.85" y1="238.50" x2="288.65" y2="238.50" stroke="#000" stroke-width="0.8" />
<line x1="285.85" y1="247.50" x2="288.65" y2="247.50" stroke="#000" stroke-width="0.8" />
<circle cx="287.25" cy="240.00" r="1.2" fill="#000" />
<circle cx="287.25" cy="243.00" r="1.2" fill="#000" />
<circle cx="287.25" cy="246.50" r="1.2" fill="#000" />
<line x1="293.05" y1="261.50" x2="293.05" y2="268.00" stroke="#000" stroke-width="0.8" />
<line x1="291.65" y1="261.50" x2="294.45" y2="261.50" stroke="#000" stroke-width="0.8" />
<line x1="291.65" y1="268.00" x2="294.45" y2="268.00" stroke="#000" stroke-width="0.8" />
<circle cx="293.05" cy="264.00" r="1.2" fill="#000" />
<circle cx="293.05" cy="266.00" r="1.2" fill="#000" />
<line x1="257.30" y1="250.20" x2="266.00" y2="250.20" stroke="#a0a0a0" stroke-width="0.8" />
<line x1="257.30" y1="248.60" x2="257.30" y2="251.80" stroke="#a0a0a0" stroke-width="0.8" />
<line x1="266.00" y1="248.60" x2="266.00" y2="251.80" stroke="#a0a0a0" stroke-width="0.8" />
<line x1="266.00" y1="250.20" x2="274.60" y2="250.20" stroke="#a0a0a0" stroke-width="0.8" />
<line x1="266.00" y1="248.60" x2="266.00" y2="251.80" stroke="#a0a0a0" stroke-width="0.8" />
<line x1="274.60" y1="248.60" x2="274.60" y2="251.80" stroke="#a0a0a0" stroke-width="0.8" />
<text x="261.30" y="250.40" font-size="7.4" font-weight="bold" font-style="normal" text-anchor="middle" fill="#000" >***</text>
<text x="269.80" y="250.40" font-size="7.4" font-weight="bold" font-style="normal" text-anchor="middle" fill="#000" >**</text>
<line x1="278.20" y1="232.60" x2="285.10" y2="232.60" stroke="#a0a0a0" stroke-width="0.8" />
<line x1="278.20" y1="231.00" x2="278.20" y2="234.20" stroke="#a0a0a0" stroke-width="0.8" />
<line x1="285.10" y1="231.00" x2="285.10" y2="234.20" stroke="#a0a0a0" stroke-width="0.8" />
<text x="281.80" y="231.30" font-size="7.4" font-weight="bold" font-style="normal" text-anchor="middle" fill="#000" >**</text>
<line x1="289.10" y1="236.00" x2="296.30" y2="236.00" stroke="#a0a0a0" stroke-width="0.8" />
<line x1="289.10" y1="234.40" x2="289.10" y2="237.60" stroke="#a0a0a0" stroke-width="0.8" />
<line x1="296.30" y1="234.40" x2="296.30" y2="237.60" stroke="#a0a0a0" stroke-width="0.8" />
<text x="292.40" y="236.20" font-size="7.4" font-weight="bold" font-style="normal" text-anchor="middle" fill="#000" >***</text>
<text x="264.60" y="346.80" font-size="12.1" font-weight="bold" font-style="normal" text-anchor="middle" fill="#000" >dark</text>
<text x="290.50" y="346.80" font-size="12.0" font-weight="bold" font-style="normal" text-anchor="middle" fill="#000" >HL</text>
<line x1="330.30" y1="226.10" x2="330.30" y2="332.80" stroke="#8a8a8a" stroke-width="1.3" />
<line x1="326.70" y1="226.70" x2="330.30" y2="226.70" stroke="#000" stroke-width="1.1" />
<text x="326.00" y="230.00" font-size="9.6" font-weight="bold" text-anchor="end">10<tspan font-size="6.3" dy="-3.8">3</tspan></text>
<line x1="328.30" y1="245.14" x2="330.30" y2="245.14" stroke="#000" stroke-width="0.7" />
<line x1="328.30" y1="240.49" x2="330.30" y2="240.49" stroke="#000" stroke-width="0.7" />
<line x1="328.30" y1="237.20" x2="330.30" y2="237.20" stroke="#000" stroke-width="0.7" />
<line x1="328.30" y1="234.64" x2="330.30" y2="234.64" stroke="#000" stroke-width="0.7" />
<line x1="328.30" y1="232.55" x2="330.30" y2="232.55" stroke="#000" stroke-width="0.7" />
<line x1="328.30" y1="230.79" x2="330.30" y2="230.79" stroke="#000" stroke-width="0.7" />
<line x1="328.30" y1="229.26" x2="330.30" y2="229.26" stroke="#000" stroke-width="0.7" />
<line x1="328.30" y1="227.91" x2="330.30" y2="227.91" stroke="#000" stroke-width="0.7" />
<line x1="326.70" y1="253.07" x2="330.30" y2="253.07" stroke="#000" stroke-width="1.1" />
<text x="326.00" y="256.38" font-size="9.6" font-weight="bold" text-anchor="end">10<tspan font-size="6.3" dy="-3.8">2</tspan></text>
<line x1="328.30" y1="271.51" x2="330.30" y2="271.51" stroke="#000" stroke-width="0.7" />
<line x1="328.30" y1="266.87" x2="330.30" y2="266.87" stroke="#000" stroke-width="0.7" />
<line x1="328.30" y1="263.57" x2="330.30" y2="263.57" stroke="#000" stroke-width="0.7" />
<line x1="328.30" y1="261.01" x2="330.30" y2="261.01" stroke="#000" stroke-width="0.7" />
<line x1="328.30" y1="258.93" x2="330.30" y2="258.93" stroke="#000" stroke-width="0.7" />
<line x1="328.30" y1="257.16" x2="330.30" y2="257.16" stroke="#000" stroke-width="0.7" />
<line x1="328.30" y1="255.63" x2="330.30" y2="255.63" stroke="#000" stroke-width="0.7" />
<line x1="328.30" y1="254.28" x2="330.30" y2="254.28" stroke="#000" stroke-width="0.7" />
<line x1="326.70" y1="279.45" x2="330.30" y2="279.45" stroke="#000" stroke-width="1.1" />
<text x="326.00" y="282.75" font-size="9.6" font-weight="bold" text-anchor="end">10<tspan font-size="6.3" dy="-3.8">1</tspan></text>
<line x1="328.30" y1="297.89" x2="330.30" y2="297.89" stroke="#000" stroke-width="0.7" />
<line x1="328.30" y1="293.24" x2="330.30" y2="293.24" stroke="#000" stroke-width="0.7" />
<line x1="328.30" y1="289.95" x2="330.30" y2="289.95" stroke="#000" stroke-width="0.7" />
<line x1="328.30" y1="287.39" x2="330.30" y2="287.39" stroke="#000" stroke-width="0.7" />
<line x1="328.30" y1="285.30" x2="330.30" y2="285.30" stroke="#000" stroke-width="0.7" />
<line x1="328.30" y1="283.54" x2="330.30" y2="283.54" stroke="#000" stroke-width="0.7" />
<line x1="328.30" y1="282.01" x2="330.30" y2="282.01" stroke="#000" stroke-width="0.7" />
<line x1="328.30" y1="280.66" x2="330.30" y2="280.66" stroke="#000" stroke-width="0.7" />
<line x1="326.70" y1="305.82" x2="330.30" y2="305.82" stroke="#000" stroke-width="1.1" />
<text x="326.00" y="309.12" font-size="9.6" font-weight="bold" text-anchor="end">10<tspan font-size="6.3" dy="-3.8">0</tspan></text>
<line x1="328.30" y1="324.26" x2="330.30" y2="324.26" stroke="#000" stroke-width="0.7" />
<line x1="328.30" y1="319.62" x2="330.30" y2="319.62" stroke="#000" stroke-width="0.7" />
<line x1="328.30" y1="316.32" x2="330.30" y2="316.32" stroke="#000" stroke-width="0.7" />
<line x1="328.30" y1="313.76" x2="330.30" y2="313.76" stroke="#000" stroke-width="0.7" />
<line x1="328.30" y1="311.68" x2="330.30" y2="311.68" stroke="#000" stroke-width="0.7" />
<line x1="328.30" y1="309.91" x2="330.30" y2="309.91" stroke="#000" stroke-width="0.7" />
<line x1="328.30" y1="308.38" x2="330.30" y2="308.38" stroke="#000" stroke-width="0.7" />
<line x1="328.30" y1="307.03" x2="330.30" y2="307.03" stroke="#000" stroke-width="0.7" />
<line x1="326.70" y1="332.20" x2="330.30" y2="332.20" stroke="#000" stroke-width="1.1" />
<text x="326.00" y="335.50" font-size="9.6" font-weight="bold" text-anchor="end">10<tspan font-size="6.3" dy="-3.8">-1</tspan></text>
<rect x="332.10" y="305.90" width="4.70" height="26.30" fill="#808080" />
<rect x="337.70" y="284.70" width="4.70" height="47.50" fill="#ffaad6" />
<rect x="343.30" y="308.40" width="4.70" height="23.80" fill="#7c74ad" />
<rect x="343.65" y="308.75" width="4.00" height="23.45" fill="none" stroke="#3a96a6" stroke-width="0.7"/>
<rect x="353.40" y="257.70" width="4.70" height="74.50" fill="#808080" />
<rect x="359.10" y="252.50" width="4.70" height="79.70" fill="#ffaad6" />
<rect x="364.80" y="257.70" width="4.70" height="74.50" fill="#7c74ad" />
<rect x="365.15" y="258.05" width="4.00" height="74.15" fill="none" stroke="#3a96a6" stroke-width="0.7"/>
<circle cx="334.45" cy="305.90" r="1.2" fill="#000" />
<circle cx="334.45" cy="305.90" r="1.2" fill="#000" />
<line x1="340.05" y1="278.00" x2="340.05" y2="292.00" stroke="#000" stroke-width="0.8" />
<line x1="338.65" y1="278.00" x2="341.45" y2="278.00" stroke="#000" stroke-width="0.8" />
<line x1="338.65" y1="292.00" x2="341.45" y2="292.00" stroke="#000" stroke-width="0.8" />
<circle cx="340.05" cy="280.00" r="1.2" fill="#000" />
<circle cx="340.05" cy="285.00" r="1.2" fill="#000" />
<circle cx="340.05" cy="291.00" r="1.2" fill="#000" />
<line x1="345.65" y1="301.50" x2="345.65" y2="313.00" stroke="#000" stroke-width="0.8" />
<line x1="344.25" y1="301.50" x2="347.05" y2="301.50" stroke="#000" stroke-width="0.8" />
<line x1="344.25" y1="313.00" x2="347.05" y2="313.00" stroke="#000" stroke-width="0.8" />
<circle cx="345.65" cy="305.00" r="1.2" fill="#000" />
<circle cx="345.65" cy="308.00" r="1.2" fill="#000" />
<circle cx="345.65" cy="311.00" r="1.2" fill="#000" />
<line x1="355.75" y1="250.50" x2="355.75" y2="268.00" stroke="#000" stroke-width="0.8" />
<line x1="354.35" y1="250.50" x2="357.15" y2="250.50" stroke="#000" stroke-width="0.8" />
<line x1="354.35" y1="268.00" x2="357.15" y2="268.00" stroke="#000" stroke-width="0.8" />
<circle cx="355.75" cy="252.00" r="1.2" fill="#000" />
<circle cx="355.75" cy="258.00" r="1.2" fill="#000" />
<circle cx="355.75" cy="267.00" r="1.2" fill="#000" />
<line x1="361.45" y1="245.50" x2="361.45" y2="258.00" stroke="#000" stroke-width="0.8" />
<line x1="360.05" y1="245.50" x2="362.85" y2="245.50" stroke="#000" stroke-width="0.8" />
<line x1="360.05" y1="258.00" x2="362.85" y2="258.00" stroke="#000" stroke-width="0.8" />
<circle cx="361.45" cy="246.50" r="1.2" fill="#000" />
<circle cx="361.45" cy="252.00" r="1.2" fill="#000" />
<circle cx="361.45" cy="256.00" r="1.2" fill="#000" />
<line x1="367.15" y1="249.50" x2="367.15" y2="267.00" stroke="#000" stroke-width="0.8" />
<line x1="365.75" y1="249.50" x2="368.55" y2="249.50" stroke="#000" stroke-width="0.8" />
<line x1="365.75" y1="267.00" x2="368.55" y2="267.00" stroke="#000" stroke-width="0.8" />
<circle cx="367.15" cy="251.00" r="1.2" fill="#000" />
<circle cx="367.15" cy="257.00" r="1.2" fill="#000" />
<circle cx="367.15" cy="265.00" r="1.2" fill="#000" />
<line x1="332.00" y1="274.00" x2="341.00" y2="274.00" stroke="#a0a0a0" stroke-width="0.8" />
<line x1="332.00" y1="272.40" x2="332.00" y2="275.60" stroke="#a0a0a0" stroke-width="0.8" />
<line x1="341.00" y1="272.40" x2="341.00" y2="275.60" stroke="#a0a0a0" stroke-width="0.8" />
<text x="334.50" y="272.70" font-size="7.4" font-weight="bold" font-style="normal" text-anchor="middle" fill="#000" >*</text>
<line x1="343.50" y1="274.00" x2="350.00" y2="274.00" stroke="#a0a0a0" stroke-width="0.8" />
<line x1="343.50" y1="272.40" x2="343.50" y2="275.60" stroke="#a0a0a0" stroke-width="0.8" />
<line x1="350.00" y1="272.40" x2="350.00" y2="275.60" stroke="#a0a0a0" stroke-width="0.8" />
<text x="347.20" y="272.70" font-size="7.4" font-weight="bold" font-style="normal" text-anchor="middle" fill="#000" >**</text>
<line x1="351.00" y1="244.20" x2="358.00" y2="244.20" stroke="#a0a0a0" stroke-width="0.8" />
<line x1="351.00" y1="242.60" x2="351.00" y2="245.80" stroke="#a0a0a0" stroke-width="0.8" />
<line x1="358.00" y1="242.60" x2="358.00" y2="245.80" stroke="#a0a0a0" stroke-width="0.8" />
<text x="354.70" y="240.80" font-size="9.2" font-weight="bold" font-style="normal" text-anchor="middle" fill="#000" >ns</text>
<line x1="362.50" y1="244.20" x2="370.00" y2="244.20" stroke="#a0a0a0" stroke-width="0.8" />
<line x1="362.50" y1="242.60" x2="362.50" y2="245.80" stroke="#a0a0a0" stroke-width="0.8" />
<line x1="370.00" y1="242.60" x2="370.00" y2="245.80" stroke="#a0a0a0" stroke-width="0.8" />
<text x="366.80" y="240.80" font-size="9.2" font-weight="bold" font-style="normal" text-anchor="middle" fill="#000" >ns</text>
<text x="339.50" y="346.80" font-size="12.1" font-weight="bold" font-style="normal" text-anchor="middle" fill="#000" >dark</text>
<text x="365.40" y="346.80" font-size="12.0" font-weight="bold" font-style="normal" text-anchor="middle" fill="#000" >HL</text>
<line x1="407.70" y1="226.10" x2="407.70" y2="331.70" stroke="#8a8a8a" stroke-width="1.3" />
<line x1="404.10" y1="226.70" x2="407.70" y2="226.70" stroke="#000" stroke-width="1.1" />
<text x="403.40" y="230.00" font-size="9.6" font-weight="bold" text-anchor="end">10<tspan font-size="6.3" dy="-3.8">2</tspan></text>
<line x1="405.70" y1="251.02" x2="407.70" y2="251.02" stroke="#000" stroke-width="0.7" />
<line x1="405.70" y1="244.90" x2="407.70" y2="244.90" stroke="#000" stroke-width="0.7" />
<line x1="405.70" y1="240.55" x2="407.70" y2="240.55" stroke="#000" stroke-width="0.7" />
<line x1="405.70" y1="237.18" x2="407.70" y2="237.18" stroke="#000" stroke-width="0.7" />
<line x1="405.70" y1="234.42" x2="407.70" y2="234.42" stroke="#000" stroke-width="0.7" />
<line x1="405.70" y1="232.09" x2="407.70" y2="232.09" stroke="#000" stroke-width="0.7" />
<line x1="405.70" y1="230.07" x2="407.70" y2="230.07" stroke="#000" stroke-width="0.7" />
<line x1="405.70" y1="228.29" x2="407.70" y2="228.29" stroke="#000" stroke-width="0.7" />
<line x1="404.10" y1="261.50" x2="407.70" y2="261.50" stroke="#000" stroke-width="1.1" />
<text x="403.40" y="264.80" font-size="9.6" font-weight="bold" text-anchor="end">10<tspan font-size="6.3" dy="-3.8">1</tspan></text>
<line x1="405.70" y1="285.82" x2="407.70" y2="285.82" stroke="#000" stroke-width="0.7" />
<line x1="405.70" y1="279.70" x2="407.70" y2="279.70" stroke="#000" stroke-width="0.7" />
<line x1="405.70" y1="275.35" x2="407.70" y2="275.35" stroke="#000" stroke-width="0.7" />
<line x1="405.70" y1="271.98" x2="407.70" y2="271.98" stroke="#000" stroke-width="0.7" />
<line x1="405.70" y1="269.22" x2="407.70" y2="269.22" stroke="#000" stroke-width="0.7" />
<line x1="405.70" y1="266.89" x2="407.70" y2="266.89" stroke="#000" stroke-width="0.7" />
<line x1="405.70" y1="264.87" x2="407.70" y2="264.87" stroke="#000" stroke-width="0.7" />
<line x1="405.70" y1="263.09" x2="407.70" y2="263.09" stroke="#000" stroke-width="0.7" />
<line x1="404.10" y1="296.30" x2="407.70" y2="296.30" stroke="#000" stroke-width="1.1" />
<text x="403.40" y="299.60" font-size="9.6" font-weight="bold" text-anchor="end">10<tspan font-size="6.3" dy="-3.8">0</tspan></text>
<line x1="405.70" y1="320.62" x2="407.70" y2="320.62" stroke="#000" stroke-width="0.7" />
<line x1="405.70" y1="314.50" x2="407.70" y2="314.50" stroke="#000" stroke-width="0.7" />
<line x1="405.70" y1="310.15" x2="407.70" y2="310.15" stroke="#000" stroke-width="0.7" />
<line x1="405.70" y1="306.78" x2="407.70" y2="306.78" stroke="#000" stroke-width="0.7" />
<line x1="405.70" y1="304.02" x2="407.70" y2="304.02" stroke="#000" stroke-width="0.7" />
<line x1="405.70" y1="301.69" x2="407.70" y2="301.69" stroke="#000" stroke-width="0.7" />
<line x1="405.70" y1="299.67" x2="407.70" y2="299.67" stroke="#000" stroke-width="0.7" />
<line x1="405.70" y1="297.89" x2="407.70" y2="297.89" stroke="#000" stroke-width="0.7" />
<line x1="404.10" y1="331.10" x2="407.70" y2="331.10" stroke="#000" stroke-width="1.1" />
<text x="403.40" y="334.40" font-size="9.6" font-weight="bold" text-anchor="end">10<tspan font-size="6.3" dy="-3.8">-1</tspan></text>
<rect x="431.20" y="296.50" width="4.60" height="34.60" fill="#808080" />
<rect x="436.80" y="255.90" width="4.60" height="75.20" fill="#ffaad6" />
<rect x="442.40" y="285.80" width="4.60" height="45.30" fill="#7c74ad" />
<rect x="442.75" y="286.15" width="3.90" height="44.95" fill="none" stroke="#3a96a6" stroke-width="0.7"/>
<circle cx="433.50" cy="296.50" r="1.2" fill="#000" />
<circle cx="433.50" cy="296.50" r="1.2" fill="#000" />
<circle cx="439.10" cy="254.50" r="1.2" fill="#000" />
<circle cx="439.10" cy="255.50" r="1.2" fill="#000" />
<line x1="444.70" y1="276.50" x2="444.70" y2="296.00" stroke="#000" stroke-width="0.8" />
<line x1="443.30" y1="276.50" x2="446.10" y2="276.50" stroke="#000" stroke-width="0.8" />
<line x1="443.30" y1="296.00" x2="446.10" y2="296.00" stroke="#000" stroke-width="0.8" />
<circle cx="444.70" cy="282.00" r="1.2" fill="#000" />
<circle cx="444.70" cy="286.00" r="1.2" fill="#000" />
<circle cx="444.70" cy="290.00" r="1.2" fill="#000" />
<line x1="431.00" y1="246.50" x2="438.50" y2="246.50" stroke="#a0a0a0" stroke-width="0.8" />
<line x1="431.00" y1="244.90" x2="431.00" y2="248.10" stroke="#a0a0a0" stroke-width="0.8" />
<line x1="438.50" y1="244.90" x2="438.50" y2="248.10" stroke="#a0a0a0" stroke-width="0.8" />
<text x="434.70" y="248.00" font-size="7.4" font-weight="bold" font-style="normal" text-anchor="middle" fill="#000" >***</text>
<line x1="441.50" y1="252.00" x2="449.50" y2="252.00" stroke="#a0a0a0" stroke-width="0.8" />
<line x1="441.50" y1="250.40" x2="441.50" y2="253.60" stroke="#a0a0a0" stroke-width="0.8" />
<line x1="449.50" y1="250.40" x2="449.50" y2="253.60" stroke="#a0a0a0" stroke-width="0.8" />
<text x="445.60" y="251.10" font-size="7.4" font-weight="bold" font-style="normal" text-anchor="middle" fill="#000" >***</text>
<text x="417.80" y="325.60" font-size="8.6" font-weight="bold" font-style="normal" text-anchor="middle" fill="#000" >n/d</text>
<text x="417.60" y="346.80" font-size="12.1" font-weight="bold" font-style="normal" text-anchor="middle" fill="#000" >dark</text>
<text x="443.40" y="346.80" font-size="12.0" font-weight="bold" font-style="normal" text-anchor="middle" fill="#000" >HL</text>
<rect x="460.00" y="229.30" width="7.70" height="7.70" fill="#7c7c7c" />
<text x="471.30" y="237.10" font-size="12" font-weight="bold" font-style="normal" text-anchor="start" fill="#000" >WT</text>
<rect x="460.00" y="244.50" width="7.70" height="7.70" fill="#ffbee0" />
<text x="471.30" y="252.30" font-size="12.3" font-weight="bold" font-style="italic" text-anchor="start" fill="#000" letter-spacing="0.25">qer7</text>
<rect x="460.00" y="259.70" width="7.70" height="7.70" fill="#a29cc7" />
<text x="471.30" y="267.50" font-size="12.3" font-weight="bold" font-style="italic" text-anchor="start" fill="#000" letter-spacing="0.25">qer7-C</text>
<line x1="559.00" y1="235.25" x2="559.00" y2="319.00" stroke="#000" stroke-width="1.5" />
<line x1="558.30" y1="319.00" x2="684.50" y2="319.00" stroke="#000" stroke-width="1.5" />
<line x1="554.50" y1="313.70" x2="559.00" y2="313.70" stroke="#000" stroke-width="1.3" />
<text x="552.70" y="317.30" font-size="10" font-weight="bold" font-style="normal" text-anchor="end" fill="#000" >0.0</text>
<line x1="556.40" y1="300.72" x2="559.00" y2="300.72" stroke="#000" stroke-width="1.0" />
<line x1="554.50" y1="287.75" x2="559.00" y2="287.75" stroke="#000" stroke-width="1.3" />
<text x="552.70" y="291.35" font-size="10" font-weight="bold" font-style="normal" text-anchor="end" fill="#000" >0.5</text>
<line x1="556.40" y1="274.77" x2="559.00" y2="274.77" stroke="#000" stroke-width="1.0" />
<line x1="554.50" y1="261.80" x2="559.00" y2="261.80" stroke="#000" stroke-width="1.3" />
<text x="552.70" y="265.40" font-size="10" font-weight="bold" font-style="normal" text-anchor="end" fill="#000" >1.0</text>
<line x1="556.40" y1="248.82" x2="559.00" y2="248.82" stroke="#000" stroke-width="1.0" />
<line x1="554.50" y1="235.85" x2="559.00" y2="235.85" stroke="#000" stroke-width="1.3" />
<text x="552.70" y="239.45" font-size="10" font-weight="bold" font-style="normal" text-anchor="end" fill="#000" >1.5</text>
<line x1="565.20" y1="319.00" x2="565.20" y2="323.50" stroke="#000" stroke-width="1.1" />
<text x="565.20" y="334.80" font-size="10.2" font-weight="bold" font-style="normal" text-anchor="middle" fill="#000" >0</text>
<line x1="570.85" y1="319.00" x2="570.85" y2="321.50" stroke="#000" stroke-width="1.1" />
<line x1="576.50" y1="319.00" x2="576.50" y2="321.50" stroke="#000" stroke-width="1.1" />
<line x1="582.15" y1="319.00" x2="582.15" y2="321.50" stroke="#000" stroke-width="1.1" />
<line x1="587.80" y1="319.00" x2="587.80" y2="323.50" stroke="#000" stroke-width="1.1" />
<text x="587.80" y="334.80" font-size="10.2" font-weight="bold" font-style="normal" text-anchor="middle" fill="#000" >4</text>
<line x1="593.45" y1="319.00" x2="593.45" y2="321.50" stroke="#000" stroke-width="1.1" />
<line x1="599.10" y1="319.00" x2="599.10" y2="321.50" stroke="#000" stroke-width="1.1" />
<line x1="604.75" y1="319.00" x2="604.75" y2="321.50" stroke="#000" stroke-width="1.1" />
<line x1="610.40" y1="319.00" x2="610.40" y2="323.50" stroke="#000" stroke-width="1.1" />
<text x="610.40" y="334.80" font-size="10.2" font-weight="bold" font-style="normal" text-anchor="middle" fill="#000" >8</text>
<line x1="616.05" y1="319.00" x2="616.05" y2="321.50" stroke="#000" stroke-width="1.1" />
<line x1="621.70" y1="319.00" x2="621.70" y2="321.50" stroke="#000" stroke-width="1.1" />
<line x1="627.35" y1="319.00" x2="627.35" y2="321.50" stroke="#000" stroke-width="1.1" />
<line x1="633.00" y1="319.00" x2="633.00" y2="323.50" stroke="#000" stroke-width="1.1" />
<text x="633.00" y="334.80" font-size="10.2" font-weight="bold" font-style="normal" text-anchor="middle" fill="#000" >12</text>
<line x1="638.65" y1="319.00" x2="638.65" y2="321.50" stroke="#000" stroke-width="1.1" />
<line x1="644.30" y1="319.00" x2="644.30" y2="321.50" stroke="#000" stroke-width="1.1" />
<line x1="649.95" y1="319.00" x2="649.95" y2="321.50" stroke="#000" stroke-width="1.1" />
<line x1="655.60" y1="319.00" x2="655.60" y2="323.50" stroke="#000" stroke-width="1.1" />
<text x="655.60" y="334.80" font-size="10.2" font-weight="bold" font-style="normal" text-anchor="middle" fill="#000" >16</text>
<line x1="661.25" y1="319.00" x2="661.25" y2="321.50" stroke="#000" stroke-width="1.1" />
<line x1="666.90" y1="319.00" x2="666.90" y2="321.50" stroke="#000" stroke-width="1.1" />
<line x1="672.55" y1="319.00" x2="672.55" y2="321.50" stroke="#000" stroke-width="1.1" />
<line x1="678.20" y1="319.00" x2="678.20" y2="323.50" stroke="#000" stroke-width="1.1" />
<text x="678.20" y="334.80" font-size="10.2" font-weight="bold" font-style="normal" text-anchor="middle" fill="#000" >20</text>
<text x="621.30" y="346.40" font-size="12" font-weight="bold" font-style="normal" text-anchor="middle" fill="#000" >Time (min)</text>
<text x="534.00" y="274.00" font-size="12" font-weight="bold" font-style="normal" text-anchor="middle" fill="#000" transform="rotate(-90 534 274)">NPQ</text>
<polyline points="564.90,294.60 567.70,304.40 570.00,306.10 572.90,290.00 577.30,289.00 581.50,292.50 585.50,292.00 590.10,290.80 594.40,289.60 598.90,287.90 603.20,286.50 607.20,285.10 611.50,283.90 615.80,282.90 620.10,281.90 624.40,281.50 626.00,291.50 628.30,301.20 632.60,305.80 638.30,307.90 644.10,308.30 649.80,309.60 655.50,309.60 661.30,309.80 667.00,310.00 672.70,310.30 678.70,310.80" fill="none" stroke="#9089c4" stroke-width="0.8"/>
<line x1="564.90" y1="291.60" x2="564.90" y2="297.60" stroke="#9089c4" stroke-width="0.7" />
<line x1="563.40" y1="291.60" x2="566.40" y2="291.60" stroke="#9089c4" stroke-width="0.7" />
<line x1="563.40" y1="297.60" x2="566.40" y2="297.60" stroke="#9089c4" stroke-width="0.7" />
<circle cx="564.90" cy="294.60" r="1.6" fill="#9089c4" />
<line x1="567.70" y1="301.40" x2="567.70" y2="307.40" stroke="#9089c4" stroke-width="0.7" />
<line x1="566.20" y1="301.40" x2="569.20" y2="301.40" stroke="#9089c4" stroke-width="0.7" />
<line x1="566.20" y1="307.40" x2="569.20" y2="307.40" stroke="#9089c4" stroke-width="0.7" />
<circle cx="567.70" cy="304.40" r="1.6" fill="#9089c4" />
<line x1="570.00" y1="303.10" x2="570.00" y2="309.10" stroke="#9089c4" stroke-width="0.7" />
<line x1="568.50" y1="303.10" x2="571.50" y2="303.10" stroke="#9089c4" stroke-width="0.7" />
<line x1="568.50" y1="309.10" x2="571.50" y2="309.10" stroke="#9089c4" stroke-width="0.7" />
<circle cx="570.00" cy="306.10" r="1.6" fill="#9089c4" />
<line x1="572.90" y1="285.00" x2="572.90" y2="295.00" stroke="#9089c4" stroke-width="0.7" />
<line x1="571.40" y1="285.00" x2="574.40" y2="285.00" stroke="#9089c4" stroke-width="0.7" />
<line x1="571.40" y1="295.00" x2="574.40" y2="295.00" stroke="#9089c4" stroke-width="0.7" />
<circle cx="572.90" cy="290.00" r="1.6" fill="#9089c4" />
<line x1="577.30" y1="284.00" x2="577.30" y2="294.00" stroke="#9089c4" stroke-width="0.7" />
<line x1="575.80" y1="284.00" x2="578.80" y2="284.00" stroke="#9089c4" stroke-width="0.7" />
<line x1="575.80" y1="294.00" x2="578.80" y2="294.00" stroke="#9089c4" stroke-width="0.7" />
<circle cx="577.30" cy="289.00" r="1.6" fill="#9089c4" />
<line x1="581.50" y1="287.50" x2="581.50" y2="297.50" stroke="#9089c4" stroke-width="0.7" />
<line x1="580.00" y1="287.50" x2="583.00" y2="287.50" stroke="#9089c4" stroke-width="0.7" />
<line x1="580.00" y1="297.50" x2="583.00" y2="297.50" stroke="#9089c4" stroke-width="0.7" />
<circle cx="581.50" cy="292.50" r="1.6" fill="#9089c4" />
<line x1="585.50" y1="286.00" x2="585.50" y2="298.00" stroke="#9089c4" stroke-width="0.7" />
<line x1="584.00" y1="286.00" x2="587.00" y2="286.00" stroke="#9089c4" stroke-width="0.7" />
<line x1="584.00" y1="298.00" x2="587.00" y2="298.00" stroke="#9089c4" stroke-width="0.7" />
<circle cx="585.50" cy="292.00" r="1.6" fill="#9089c4" />
<line x1="590.10" y1="284.80" x2="590.10" y2="296.80" stroke="#9089c4" stroke-width="0.7" />
<line x1="588.60" y1="284.80" x2="591.60" y2="284.80" stroke="#9089c4" stroke-width="0.7" />
<line x1="588.60" y1="296.80" x2="591.60" y2="296.80" stroke="#9089c4" stroke-width="0.7" />
<circle cx="590.10" cy="290.80" r="1.6" fill="#9089c4" />
<line x1="594.40" y1="283.60" x2="594.40" y2="295.60" stroke="#9089c4" stroke-width="0.7" />
<line x1="592.90" y1="283.60" x2="595.90" y2="283.60" stroke="#9089c4" stroke-width="0.7" />
<line x1="592.90" y1="295.60" x2="595.90" y2="295.60" stroke="#9089c4" stroke-width="0.7" />
<circle cx="594.40" cy="289.60" r="1.6" fill="#9089c4" />
<line x1="598.90" y1="281.90" x2="598.90" y2="293.90" stroke="#9089c4" stroke-width="0.7" />
<line x1="597.40" y1="281.90" x2="600.40" y2="281.90" stroke="#9089c4" stroke-width="0.7" />
<line x1="597.40" y1="293.90" x2="600.40" y2="293.90" stroke="#9089c4" stroke-width="0.7" />
<circle cx="598.90" cy="287.90" r="1.6" fill="#9089c4" />
<line x1="603.20" y1="280.50" x2="603.20" y2="292.50" stroke="#9089c4" stroke-width="0.7" />
<line x1="601.70" y1="280.50" x2="604.70" y2="280.50" stroke="#9089c4" stroke-width="0.7" />
<line x1="601.70" y1="292.50" x2="604.70" y2="292.50" stroke="#9089c4" stroke-width="0.7" />
<circle cx="603.20" cy="286.50" r="1.6" fill="#9089c4" />
<line x1="607.20" y1="279.10" x2="607.20" y2="291.10" stroke="#9089c4" stroke-width="0.7" />
<line x1="605.70" y1="279.10" x2="608.70" y2="279.10" stroke="#9089c4" stroke-width="0.7" />
<line x1="605.70" y1="291.10" x2="608.70" y2="291.10" stroke="#9089c4" stroke-width="0.7" />
<circle cx="607.20" cy="285.10" r="1.6" fill="#9089c4" />
<line x1="611.50" y1="277.90" x2="611.50" y2="289.90" stroke="#9089c4" stroke-width="0.7" />
<line x1="610.00" y1="277.90" x2="613.00" y2="277.90" stroke="#9089c4" stroke-width="0.7" />
<line x1="610.00" y1="289.90" x2="613.00" y2="289.90" stroke="#9089c4" stroke-width="0.7" />
<circle cx="611.50" cy="283.90" r="1.6" fill="#9089c4" />
<line x1="615.80" y1="276.90" x2="615.80" y2="288.90" stroke="#9089c4" stroke-width="0.7" />
<line x1="614.30" y1="276.90" x2="617.30" y2="276.90" stroke="#9089c4" stroke-width="0.7" />
<line x1="614.30" y1="288.90" x2="617.30" y2="288.90" stroke="#9089c4" stroke-width="0.7" />
<circle cx="615.80" cy="282.90" r="1.6" fill="#9089c4" />
<line x1="620.10" y1="275.90" x2="620.10" y2="287.90" stroke="#9089c4" stroke-width="0.7" />
<line x1="618.60" y1="275.90" x2="621.60" y2="275.90" stroke="#9089c4" stroke-width="0.7" />
<line x1="618.60" y1="287.90" x2="621.60" y2="287.90" stroke="#9089c4" stroke-width="0.7" />
<circle cx="620.10" cy="281.90" r="1.6" fill="#9089c4" />
<line x1="624.40" y1="275.50" x2="624.40" y2="287.50" stroke="#9089c4" stroke-width="0.7" />
<line x1="622.90" y1="275.50" x2="625.90" y2="275.50" stroke="#9089c4" stroke-width="0.7" />
<line x1="622.90" y1="287.50" x2="625.90" y2="287.50" stroke="#9089c4" stroke-width="0.7" />
<circle cx="624.40" cy="281.50" r="1.6" fill="#9089c4" />
<line x1="626.00" y1="289.50" x2="626.00" y2="293.50" stroke="#9089c4" stroke-width="0.7" />
<line x1="624.50" y1="289.50" x2="627.50" y2="289.50" stroke="#9089c4" stroke-width="0.7" />
<line x1="624.50" y1="293.50" x2="627.50" y2="293.50" stroke="#9089c4" stroke-width="0.7" />
<circle cx="626.00" cy="291.50" r="1.6" fill="#9089c4" />
<line x1="628.30" y1="300.20" x2="628.30" y2="302.20" stroke="#9089c4" stroke-width="0.7" />
<line x1="626.80" y1="300.20" x2="629.80" y2="300.20" stroke="#9089c4" stroke-width="0.7" />
<line x1="626.80" y1="302.20" x2="629.80" y2="302.20" stroke="#9089c4" stroke-width="0.7" />
<circle cx="628.30" cy="301.20" r="1.6" fill="#9089c4" />
<line x1="632.60" y1="304.80" x2="632.60" y2="306.80" stroke="#9089c4" stroke-width="0.7" />
<line x1="631.10" y1="304.80" x2="634.10" y2="304.80" stroke="#9089c4" stroke-width="0.7" />
<line x1="631.10" y1="306.80" x2="634.10" y2="306.80" stroke="#9089c4" stroke-width="0.7" />
<circle cx="632.60" cy="305.80" r="1.6" fill="#9089c4" />
<line x1="638.30" y1="306.90" x2="638.30" y2="308.90" stroke="#9089c4" stroke-width="0.7" />
<line x1="636.80" y1="306.90" x2="639.80" y2="306.90" stroke="#9089c4" stroke-width="0.7" />
<line x1="636.80" y1="308.90" x2="639.80" y2="308.90" stroke="#9089c4" stroke-width="0.7" />
<circle cx="638.30" cy="307.90" r="1.6" fill="#9089c4" />
<circle cx="644.10" cy="308.30" r="1.6" fill="#9089c4" />
<circle cx="649.80" cy="309.60" r="1.6" fill="#9089c4" />
<circle cx="655.50" cy="309.60" r="1.6" fill="#9089c4" />
<circle cx="661.30" cy="309.80" r="1.6" fill="#9089c4" />
<circle cx="667.00" cy="310.00" r="1.6" fill="#9089c4" />
<circle cx="672.70" cy="310.30" r="1.6" fill="#9089c4" />
<circle cx="678.70" cy="310.80" r="1.6" fill="#9089c4" />
<polyline points="564.90,282.00 567.70,296.00 570.00,297.00 572.90,246.00 577.30,247.80 581.50,251.20 585.50,251.20 590.10,254.60 594.40,255.00 598.90,254.30 603.20,253.30 607.20,251.90 611.50,251.50 615.80,250.00 620.10,248.20 624.40,248.20 626.00,281.10 628.30,294.90 632.60,306.90 638.30,310.70 644.10,311.50 649.80,311.20 655.50,311.20 661.30,311.50 667.00,311.50 672.70,312.00 678.70,312.50" fill="none" stroke="#fbb0d8" stroke-width="0.8"/>
<line x1="564.90" y1="280.00" x2="564.90" y2="284.00" stroke="#fbb0d8" stroke-width="0.7" />
<line x1="563.40" y1="280.00" x2="566.40" y2="280.00" stroke="#fbb0d8" stroke-width="0.7" />
<line x1="563.40" y1="284.00" x2="566.40" y2="284.00" stroke="#fbb0d8" stroke-width="0.7" />
<circle cx="564.90" cy="282.00" r="1.9" fill="#fbb0d8" />
<line x1="567.70" y1="294.00" x2="567.70" y2="298.00" stroke="#fbb0d8" stroke-width="0.7" />
<line x1="566.20" y1="294.00" x2="569.20" y2="294.00" stroke="#fbb0d8" stroke-width="0.7" />
<line x1="566.20" y1="298.00" x2="569.20" y2="298.00" stroke="#fbb0d8" stroke-width="0.7" />
<circle cx="567.70" cy="296.00" r="1.9" fill="#fbb0d8" />
<line x1="570.00" y1="295.00" x2="570.00" y2="299.00" stroke="#fbb0d8" stroke-width="0.7" />
<line x1="568.50" y1="295.00" x2="571.50" y2="295.00" stroke="#fbb0d8" stroke-width="0.7" />
<line x1="568.50" y1="299.00" x2="571.50" y2="299.00" stroke="#fbb0d8" stroke-width="0.7" />
<circle cx="570.00" cy="297.00" r="1.9" fill="#fbb0d8" />
<line x1="572.90" y1="242.00" x2="572.90" y2="250.00" stroke="#fbb0d8" stroke-width="0.7" />
<line x1="571.40" y1="242.00" x2="574.40" y2="242.00" stroke="#fbb0d8" stroke-width="0.7" />
<line x1="571.40" y1="250.00" x2="574.40" y2="250.00" stroke="#fbb0d8" stroke-width="0.7" />
<circle cx="572.90" cy="246.00" r="1.9" fill="#fbb0d8" />
<line x1="577.30" y1="243.80" x2="577.30" y2="251.80" stroke="#fbb0d8" stroke-width="0.7" />
<line x1="575.80" y1="243.80" x2="578.80" y2="243.80" stroke="#fbb0d8" stroke-width="0.7" />
<line x1="575.80" y1="251.80" x2="578.80" y2="251.80" stroke="#fbb0d8" stroke-width="0.7" />
<circle cx="577.30" cy="247.80" r="1.9" fill="#fbb0d8" />
<line x1="581.50" y1="247.20" x2="581.50" y2="255.20" stroke="#fbb0d8" stroke-width="0.7" />
<line x1="580.00" y1="247.20" x2="583.00" y2="247.20" stroke="#fbb0d8" stroke-width="0.7" />
<line x1="580.00" y1="255.20" x2="583.00" y2="255.20" stroke="#fbb0d8" stroke-width="0.7" />
<circle cx="581.50" cy="251.20" r="1.9" fill="#fbb0d8" />
<line x1="585.50" y1="247.20" x2="585.50" y2="255.20" stroke="#fbb0d8" stroke-width="0.7" />
<line x1="584.00" y1="247.20" x2="587.00" y2="247.20" stroke="#fbb0d8" stroke-width="0.7" />
<line x1="584.00" y1="255.20" x2="587.00" y2="255.20" stroke="#fbb0d8" stroke-width="0.7" />
<circle cx="585.50" cy="251.20" r="1.9" fill="#fbb0d8" />
<line x1="590.10" y1="250.60" x2="590.10" y2="258.60" stroke="#fbb0d8" stroke-width="0.7" />
<line x1="588.60" y1="250.60" x2="591.60" y2="250.60" stroke="#fbb0d8" stroke-width="0.7" />
<line x1="588.60" y1="258.60" x2="591.60" y2="258.60" stroke="#fbb0d8" stroke-width="0.7" />
<circle cx="590.10" cy="254.60" r="1.9" fill="#fbb0d8" />
<line x1="594.40" y1="251.00" x2="594.40" y2="259.00" stroke="#fbb0d8" stroke-width="0.7" />
<line x1="592.90" y1="251.00" x2="595.90" y2="251.00" stroke="#fbb0d8" stroke-width="0.7" />
<line x1="592.90" y1="259.00" x2="595.90" y2="259.00" stroke="#fbb0d8" stroke-width="0.7" />
<circle cx="594.40" cy="255.00" r="1.9" fill="#fbb0d8" />
<line x1="598.90" y1="250.30" x2="598.90" y2="258.30" stroke="#fbb0d8" stroke-width="0.7" />
<line x1="597.40" y1="250.30" x2="600.40" y2="250.30" stroke="#fbb0d8" stroke-width="0.7" />
<line x1="597.40" y1="258.30" x2="600.40" y2="258.30" stroke="#fbb0d8" stroke-width="0.7" />
<circle cx="598.90" cy="254.30" r="1.9" fill="#fbb0d8" />
<line x1="603.20" y1="249.30" x2="603.20" y2="257.30" stroke="#fbb0d8" stroke-width="0.7" />
<line x1="601.70" y1="249.30" x2="604.70" y2="249.30" stroke="#fbb0d8" stroke-width="0.7" />
<line x1="601.70" y1="257.30" x2="604.70" y2="257.30" stroke="#fbb0d8" stroke-width="0.7" />
<circle cx="603.20" cy="253.30" r="1.9" fill="#fbb0d8" />
<line x1="607.20" y1="247.90" x2="607.20" y2="255.90" stroke="#fbb0d8" stroke-width="0.7" />
<line x1="605.70" y1="247.90" x2="608.70" y2="247.90" stroke="#fbb0d8" stroke-width="0.7" />
<line x1="605.70" y1="255.90" x2="608.70" y2="255.90" stroke="#fbb0d8" stroke-width="0.7" />
<circle cx="607.20" cy="251.90" r="1.9" fill="#fbb0d8" />
<line x1="611.50" y1="247.50" x2="611.50" y2="255.50" stroke="#fbb0d8" stroke-width="0.7" />
<line x1="610.00" y1="247.50" x2="613.00" y2="247.50" stroke="#fbb0d8" stroke-width="0.7" />
<line x1="610.00" y1="255.50" x2="613.00" y2="255.50" stroke="#fbb0d8" stroke-width="0.7" />
<circle cx="611.50" cy="251.50" r="1.9" fill="#fbb0d8" />
<line x1="615.80" y1="246.00" x2="615.80" y2="254.00" stroke="#fbb0d8" stroke-width="0.7" />
<line x1="614.30" y1="246.00" x2="617.30" y2="246.00" stroke="#fbb0d8" stroke-width="0.7" />
<line x1="614.30" y1="254.00" x2="617.30" y2="254.00" stroke="#fbb0d8" stroke-width="0.7" />
<circle cx="615.80" cy="250.00" r="1.9" fill="#fbb0d8" />
<line x1="620.10" y1="244.20" x2="620.10" y2="252.20" stroke="#fbb0d8" stroke-width="0.7" />
<line x1="618.60" y1="244.20" x2="621.60" y2="244.20" stroke="#fbb0d8" stroke-width="0.7" />
<line x1="618.60" y1="252.20" x2="621.60" y2="252.20" stroke="#fbb0d8" stroke-width="0.7" />
<circle cx="620.10" cy="248.20" r="1.9" fill="#fbb0d8" />
<line x1="624.40" y1="244.20" x2="624.40" y2="252.20" stroke="#fbb0d8" stroke-width="0.7" />
<line x1="622.90" y1="244.20" x2="625.90" y2="244.20" stroke="#fbb0d8" stroke-width="0.7" />
<line x1="622.90" y1="252.20" x2="625.90" y2="252.20" stroke="#fbb0d8" stroke-width="0.7" />
<circle cx="624.40" cy="248.20" r="1.9" fill="#fbb0d8" />
<line x1="626.00" y1="280.10" x2="626.00" y2="282.10" stroke="#fbb0d8" stroke-width="0.7" />
<line x1="624.50" y1="280.10" x2="627.50" y2="280.10" stroke="#fbb0d8" stroke-width="0.7" />
<line x1="624.50" y1="282.10" x2="627.50" y2="282.10" stroke="#fbb0d8" stroke-width="0.7" />
<circle cx="626.00" cy="281.10" r="1.9" fill="#fbb0d8" />
<line x1="628.30" y1="293.90" x2="628.30" y2="295.90" stroke="#fbb0d8" stroke-width="0.7" />
<line x1="626.80" y1="293.90" x2="629.80" y2="293.90" stroke="#fbb0d8" stroke-width="0.7" />
<line x1="626.80" y1="295.90" x2="629.80" y2="295.90" stroke="#fbb0d8" stroke-width="0.7" />
<circle cx="628.30" cy="294.90" r="1.9" fill="#fbb0d8" />
<circle cx="632.60" cy="306.90" r="1.9" fill="#fbb0d8" />
<circle cx="638.30" cy="310.70" r="1.9" fill="#fbb0d8" />
<circle cx="644.10" cy="311.50" r="1.9" fill="#fbb0d8" />
<circle cx="649.80" cy="311.20" r="1.9" fill="#fbb0d8" />
<circle cx="655.50" cy="311.20" r="1.9" fill="#fbb0d8" />
<circle cx="661.30" cy="311.50" r="1.9" fill="#fbb0d8" />
<circle cx="667.00" cy="311.50" r="1.9" fill="#fbb0d8" />
<circle cx="672.70" cy="312.00" r="1.9" fill="#fbb0d8" />
<circle cx="678.70" cy="312.50" r="1.9" fill="#fbb0d8" />
<polyline points="564.90,280.90 567.70,294.00 570.00,294.60 572.90,291.80 577.30,281.50 581.50,288.90 585.50,291.20 590.10,293.50 594.40,296.90 598.90,299.40 603.20,299.50 607.20,299.50 611.50,299.50 615.80,299.40 620.10,299.30 624.40,299.40 626.00,304.00 628.30,308.10 632.60,310.40 638.30,313.30 644.10,311.90 649.80,310.00 655.50,308.30 661.30,308.30 667.00,309.20 672.70,310.00 678.70,311.00" fill="none" stroke="#3a3a3a" stroke-width="0.8"/>
<line x1="564.90" y1="278.40" x2="564.90" y2="283.40" stroke="#3a3a3a" stroke-width="0.7" />
<line x1="563.40" y1="278.40" x2="566.40" y2="278.40" stroke="#3a3a3a" stroke-width="0.7" />
<line x1="563.40" y1="283.40" x2="566.40" y2="283.40" stroke="#3a3a3a" stroke-width="0.7" />
<path d="M563.14,279.46 L566.66,279.46 L564.90,282.66 Z" fill="#3a3a3a"/>
<line x1="567.70" y1="292.00" x2="567.70" y2="296.00" stroke="#3a3a3a" stroke-width="0.7" />
<line x1="566.20" y1="292.00" x2="569.20" y2="292.00" stroke="#3a3a3a" stroke-width="0.7" />
<line x1="566.20" y1="296.00" x2="569.20" y2="296.00" stroke="#3a3a3a" stroke-width="0.7" />
<path d="M565.94,292.56 L569.46,292.56 L567.70,295.76 Z" fill="#3a3a3a"/>
<line x1="570.00" y1="292.60" x2="570.00" y2="296.60" stroke="#3a3a3a" stroke-width="0.7" />
<line x1="568.50" y1="292.60" x2="571.50" y2="292.60" stroke="#3a3a3a" stroke-width="0.7" />
<line x1="568.50" y1="296.60" x2="571.50" y2="296.60" stroke="#3a3a3a" stroke-width="0.7" />
<path d="M568.24,293.16 L571.76,293.16 L570.00,296.36 Z" fill="#3a3a3a"/>
<line x1="572.90" y1="289.80" x2="572.90" y2="293.80" stroke="#3a3a3a" stroke-width="0.7" />
<line x1="571.40" y1="289.80" x2="574.40" y2="289.80" stroke="#3a3a3a" stroke-width="0.7" />
<line x1="571.40" y1="293.80" x2="574.40" y2="293.80" stroke="#3a3a3a" stroke-width="0.7" />
<path d="M571.14,290.36 L574.66,290.36 L572.90,293.56 Z" fill="#3a3a3a"/>
<line x1="577.30" y1="278.50" x2="577.30" y2="284.50" stroke="#3a3a3a" stroke-width="0.7" />
<line x1="575.80" y1="278.50" x2="578.80" y2="278.50" stroke="#3a3a3a" stroke-width="0.7" />
<line x1="575.80" y1="284.50" x2="578.80" y2="284.50" stroke="#3a3a3a" stroke-width="0.7" />
<path d="M575.54,280.06 L579.06,280.06 L577.30,283.26 Z" fill="#3a3a3a"/>
<line x1="581.50" y1="286.40" x2="581.50" y2="291.40" stroke="#3a3a3a" stroke-width="0.7" />
<line x1="580.00" y1="286.40" x2="583.00" y2="286.40" stroke="#3a3a3a" stroke-width="0.7" />
<line x1="580.00" y1="291.40" x2="583.00" y2="291.40" stroke="#3a3a3a" stroke-width="0.7" />
<path d="M579.74,287.46 L583.26,287.46 L581.50,290.66 Z" fill="#3a3a3a"/>
<line x1="585.50" y1="289.20" x2="585.50" y2="293.20" stroke="#3a3a3a" stroke-width="0.7" />
<line x1="584.00" y1="289.20" x2="587.00" y2="289.20" stroke="#3a3a3a" stroke-width="0.7" />
<line x1="584.00" y1="293.20" x2="587.00" y2="293.20" stroke="#3a3a3a" stroke-width="0.7" />
<path d="M583.74,289.76 L587.26,289.76 L585.50,292.96 Z" fill="#3a3a3a"/>
<line x1="590.10" y1="292.00" x2="590.10" y2="295.00" stroke="#3a3a3a" stroke-width="0.7" />
<line x1="588.60" y1="292.00" x2="591.60" y2="292.00" stroke="#3a3a3a" stroke-width="0.7" />
<line x1="588.60" y1="295.00" x2="591.60" y2="295.00" stroke="#3a3a3a" stroke-width="0.7" />
<path d="M588.34,292.06 L591.86,292.06 L590.10,295.26 Z" fill="#3a3a3a"/>
<line x1="594.40" y1="295.40" x2="594.40" y2="298.40" stroke="#3a3a3a" stroke-width="0.7" />
<line x1="592.90" y1="295.40" x2="595.90" y2="295.40" stroke="#3a3a3a" stroke-width="0.7" />
<line x1="592.90" y1="298.40" x2="595.90" y2="298.40" stroke="#3a3a3a" stroke-width="0.7" />
<path d="M592.64,295.46 L596.16,295.46 L594.40,298.66 Z" fill="#3a3a3a"/>
<path d="M597.14,297.96 L600.66,297.96 L598.90,301.16 Z" fill="#3a3a3a"/>
<path d="M601.44,298.06 L604.96,298.06 L603.20,301.26 Z" fill="#3a3a3a"/>
<path d="M605.44,298.06 L608.96,298.06 L607.20,301.26 Z" fill="#3a3a3a"/>
<path d="M609.74,298.06 L613.26,298.06 L611.50,301.26 Z" fill="#3a3a3a"/>
<path d="M614.04,297.96 L617.56,297.96 L615.80,301.16 Z" fill="#3a3a3a"/>
<path d="M618.34,297.86 L621.86,297.86 L620.10,301.06 Z" fill="#3a3a3a"/>
<path d="M622.64,297.96 L626.16,297.96 L624.40,301.16 Z" fill="#3a3a3a"/>
<path d="M624.24,302.56 L627.76,302.56 L626.00,305.76 Z" fill="#3a3a3a"/>
<path d="M626.54,306.66 L630.06,306.66 L628.30,309.86 Z" fill="#3a3a3a"/>
<path d="M630.84,308.96 L634.36,308.96 L632.60,312.16 Z" fill="#3a3a3a"/>
<path d="M636.54,311.86 L640.06,311.86 L638.30,315.06 Z" fill="#3a3a3a"/>
<path d="M642.34,310.46 L645.86,310.46 L644.10,313.66 Z" fill="#3a3a3a"/>
<path d="M648.04,308.56 L651.56,308.56 L649.80,311.76 Z" fill="#3a3a3a"/>
<path d="M653.74,306.86 L657.26,306.86 L655.50,310.06 Z" fill="#3a3a3a"/>
<path d="M659.54,306.86 L663.06,306.86 L661.30,310.06 Z" fill="#3a3a3a"/>
<path d="M665.24,307.76 L668.76,307.76 L667.00,310.96 Z" fill="#3a3a3a"/>
<path d="M670.94,308.56 L674.46,308.56 L672.70,311.76 Z" fill="#3a3a3a"/>
<path d="M676.94,309.56 L680.46,309.56 L678.70,312.76 Z" fill="#3a3a3a"/>
<text x="602.60" y="242.30" font-size="13.8" font-weight="bold" font-style="italic" text-anchor="middle" fill="#fbb0d8" >qer7</text>
<text x="598.60" y="274.60" font-size="13.3" font-weight="bold" font-style="italic" text-anchor="middle" fill="#9089c4" >qer7-C</text>
<text x="598.60" y="314.80" font-size="15" font-weight="bold" font-style="normal" text-anchor="middle" fill="#808080" >WT</text>
<rect x="647.5" y="228" width="30" height="57" fill="#fff"/>
<line x1="648.30" y1="240.30" x2="648.30" y2="283.40" stroke="#c8c8c8" stroke-width="1.2" />
<line x1="647.10" y1="283.40" x2="676.50" y2="283.40" stroke="#000" stroke-width="0.8" />
<line x1="646.00" y1="283.40" x2="647.80" y2="283.40" stroke="#999" stroke-width="0.8" />
<text x="645.00" y="285.60" font-size="6.2" font-weight="bold" font-style="normal" text-anchor="end" fill="#000" >0.0</text>
<line x1="646.00" y1="269.20" x2="647.80" y2="269.20" stroke="#999" stroke-width="0.8" />
<text x="645.00" y="271.40" font-size="6.2" font-weight="bold" font-style="normal" text-anchor="end" fill="#000" >0.5</text>
<line x1="646.00" y1="255.00" x2="647.80" y2="255.00" stroke="#999" stroke-width="0.8" />
<text x="645.00" y="257.20" font-size="6.2" font-weight="bold" font-style="normal" text-anchor="end" fill="#000" >1.0</text>
<line x1="646.00" y1="240.80" x2="647.80" y2="240.80" stroke="#999" stroke-width="0.8" />
<text x="645.00" y="243.00" font-size="6.2" font-weight="bold" font-style="normal" text-anchor="end" fill="#000" >1.5</text>
<rect x="651.80" y="276.50" width="6.20" height="6.90" fill="#808080" />
<rect x="660.00" y="254.00" width="6.30" height="29.40" fill="#ffaad6" />
<rect x="669.10" y="272.20" width="5.60" height="11.20" fill="#8279b4" />
<circle cx="654.40" cy="276.80" r="0.8" fill="#000" />
<circle cx="656.00" cy="276.50" r="0.8" fill="#000" />
<circle cx="652.80" cy="277.00" r="0.8" fill="#000" />
<circle cx="662.20" cy="254.50" r="0.9" fill="#000" />
<circle cx="664.50" cy="253.80" r="0.9" fill="#000" />
<circle cx="663.10" cy="250.60" r="0.9" fill="#000" />
<line x1="671.90" y1="268.50" x2="671.90" y2="276.00" stroke="#000" stroke-width="0.6" />
<line x1="670.70" y1="268.50" x2="673.10" y2="268.50" stroke="#000" stroke-width="0.6" />
<line x1="670.70" y1="276.00" x2="673.10" y2="276.00" stroke="#000" stroke-width="0.6" />
<circle cx="671.90" cy="269.50" r="0.9" fill="#000" />
<circle cx="671.90" cy="273.50" r="0.9" fill="#000" />
<line x1="654.20" y1="245.60" x2="663.60" y2="245.60" stroke="#777" stroke-width="0.6" />
<line x1="654.20" y1="245.60" x2="654.20" y2="275.50" stroke="#777" stroke-width="0.6" />
<line x1="663.60" y1="245.60" x2="663.60" y2="248.20" stroke="#777" stroke-width="0.6" />
<text x="658.80" y="246.04" font-size="6.3" font-weight="bold" font-style="normal" text-anchor="middle" fill="#000" >****</text>
<line x1="663.60" y1="237.20" x2="671.60" y2="237.20" stroke="#777" stroke-width="0.6" />
<line x1="663.60" y1="237.20" x2="663.60" y2="239.60" stroke="#777" stroke-width="0.6" />
<line x1="671.60" y1="237.20" x2="671.60" y2="268.00" stroke="#777" stroke-width="0.6" />
<text x="667.20" y="237.44" font-size="6.3" font-weight="bold" font-style="normal" text-anchor="middle" fill="#000" >***</text>
<text x="634.2" y="255" font-size="6.5" font-weight="bold" text-anchor="middle" transform="rotate(-90 634.2 255)">qE</text>
<text x="657.6" y="288.6" font-size="6.8" font-weight="bold" font-style="normal" text-anchor="end" transform="rotate(-45 657.6 288.6)">WT</text>
<text x="665.6" y="288.6" font-size="6.8" font-weight="bold" font-style="italic" text-anchor="end" transform="rotate(-45 665.6 288.6)">qer7</text>
<text x="674.6" y="290.0" font-size="6.8" font-weight="bold" font-style="italic" text-anchor="end" transform="rotate(-45 674.6 290.0)">qer7-C</text>
<line x1="438.70" y1="150.40" x2="478.60" y2="150.40" stroke="#3a3a3a" stroke-opacity="0.75" stroke-width="1.5"/>
<line x1="506.60" y1="152.50" x2="546.40" y2="152.50" stroke="#3a3a3a" stroke-opacity="0.75" stroke-width="1.5"/>
<line x1="574.50" y1="153.00" x2="614.50" y2="153.00" stroke="#3a3a3a" stroke-opacity="0.75" stroke-width="1.5"/>
<line x1="254.90" y1="332.70" x2="297.60" y2="332.70" stroke="#3a3a3a" stroke-opacity="0.75" stroke-width="1.5"/>
<line x1="329.70" y1="332.20" x2="371.50" y2="332.20" stroke="#3a3a3a" stroke-opacity="0.75" stroke-width="1.5"/>
<line x1="407.10" y1="331.10" x2="448.70" y2="331.10" stroke="#3a3a3a" stroke-opacity="0.75" stroke-width="1.5"/>
</svg></body></html>
